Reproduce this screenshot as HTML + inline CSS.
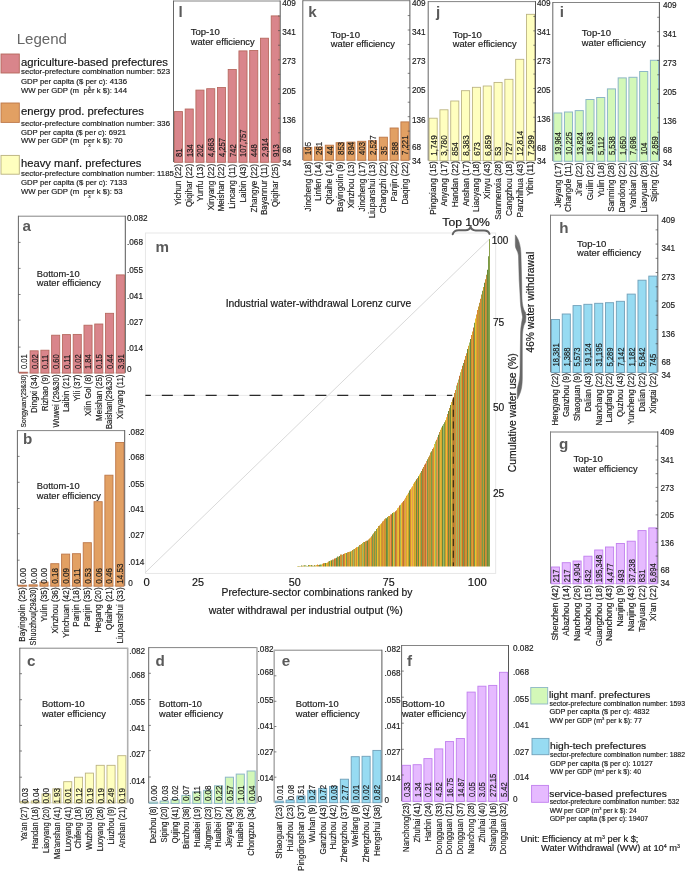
<!DOCTYPE html>
<html><head><meta charset="utf-8"><title>Industrial water-withdrawal Lorenz curve</title>
<style>
html,body{margin:0;padding:0;background:#fff;}
text{stroke:#222;stroke-width:0.16px;}
text.g{stroke:none;}
svg{display:block;will-change:transform;font-family:"Liberation Sans",sans-serif;}
</style></head><body>
<svg width="685" height="873" viewBox="0 0 685 873">
<rect width="685" height="873" fill="#fff"/>
<g id="p-l">
<line x1="173.50" y1="162.00" x2="280.20" y2="162.00" stroke="#d4d4d4" stroke-width="0.8"/>
<line x1="173.50" y1="1.00" x2="280.20" y2="1.00" stroke="#777777" stroke-width="0.9"/>
<line x1="173.50" y1="0.55" x2="173.50" y2="162.00" stroke="#555555" stroke-width="0.9"/>
<line x1="280.20" y1="0.55" x2="280.20" y2="162.00" stroke="#444444" stroke-width="0.9"/>
<rect x="174.40" y="111.60" width="8.10" height="50.70" fill="#d9858b" stroke="#b5675c" stroke-width="0.85"/>
<rect x="185.16" y="109.00" width="8.10" height="53.30" fill="#d9858b" stroke="#b5675c" stroke-width="0.85"/>
<rect x="195.91" y="90.10" width="8.10" height="72.20" fill="#d9858b" stroke="#b5675c" stroke-width="0.85"/>
<rect x="206.67" y="88.70" width="8.10" height="73.60" fill="#d9858b" stroke="#b5675c" stroke-width="0.85"/>
<rect x="217.42" y="87.50" width="8.10" height="74.80" fill="#d9858b" stroke="#b5675c" stroke-width="0.85"/>
<rect x="228.18" y="69.50" width="8.10" height="92.80" fill="#d9858b" stroke="#b5675c" stroke-width="0.85"/>
<rect x="238.93" y="50.90" width="8.10" height="111.40" fill="#d9858b" stroke="#b5675c" stroke-width="0.85"/>
<rect x="249.69" y="50.50" width="8.10" height="111.80" fill="#d9858b" stroke="#b5675c" stroke-width="0.85"/>
<rect x="260.44" y="38.20" width="8.10" height="124.10" fill="#d9858b" stroke="#b5675c" stroke-width="0.85"/>
<rect x="271.20" y="15.90" width="8.10" height="146.40" fill="#d9858b" stroke="#b5675c" stroke-width="0.85"/>
<line x1="278.00" y1="147.40" x2="280.20" y2="147.40" stroke="#4d4d4d" stroke-width="0.7"/>
<line x1="278.00" y1="132.81" x2="280.20" y2="132.81" stroke="#4d4d4d" stroke-width="0.7"/>
<line x1="278.00" y1="118.21" x2="280.20" y2="118.21" stroke="#4d4d4d" stroke-width="0.7"/>
<line x1="278.00" y1="103.61" x2="280.20" y2="103.61" stroke="#4d4d4d" stroke-width="0.7"/>
<line x1="278.00" y1="89.01" x2="280.20" y2="89.01" stroke="#4d4d4d" stroke-width="0.7"/>
<line x1="278.00" y1="74.42" x2="280.20" y2="74.42" stroke="#4d4d4d" stroke-width="0.7"/>
<line x1="278.00" y1="59.82" x2="280.20" y2="59.82" stroke="#4d4d4d" stroke-width="0.7"/>
<line x1="278.00" y1="45.22" x2="280.20" y2="45.22" stroke="#4d4d4d" stroke-width="0.7"/>
<line x1="278.00" y1="30.62" x2="280.20" y2="30.62" stroke="#4d4d4d" stroke-width="0.7"/>
<line x1="278.00" y1="16.03" x2="280.20" y2="16.03" stroke="#4d4d4d" stroke-width="0.7"/>
<text x="282.2" y="5.9" font-size="8.2" fill="#1a1a1a">409</text>
<text x="282.2" y="34.9" font-size="8.2" fill="#1a1a1a">341</text>
<text x="282.2" y="64.4" font-size="8.2" fill="#1a1a1a">273</text>
<text x="282.2" y="93.9" font-size="8.2" fill="#1a1a1a">205</text>
<text x="282.2" y="123.1" font-size="8.2" fill="#1a1a1a">136</text>
<text x="282.2" y="152.8" font-size="8.2" fill="#1a1a1a">68</text>
<text x="282.2" y="165.6" font-size="8.2" fill="#1a1a1a">34</text>
<text transform="translate(181.85,157.00) rotate(-90) scale(0.91,1)" font-size="8.4" fill="#1a1a1a">81</text>
<text transform="translate(181.35,163.90) rotate(-90) scale(0.93,1)" text-anchor="end" font-size="8.8" fill="#1a1a1a">Yichun (22)</text>
<text transform="translate(192.61,157.00) rotate(-90) scale(0.91,1)" font-size="8.4" fill="#1a1a1a">134</text>
<text transform="translate(192.11,163.90) rotate(-90) scale(0.93,1)" text-anchor="end" font-size="8.8" fill="#1a1a1a">Qiqihar (22)</text>
<text transform="translate(203.36,157.00) rotate(-90) scale(0.91,1)" font-size="8.4" fill="#1a1a1a">202</text>
<text transform="translate(202.86,163.90) rotate(-90) scale(0.93,1)" text-anchor="end" font-size="8.8" fill="#1a1a1a">Yunfu (13)</text>
<text transform="translate(214.12,157.00) rotate(-90) scale(0.91,1)" font-size="8.4" fill="#1a1a1a">4,663</text>
<text transform="translate(213.62,163.90) rotate(-90) scale(0.93,1)" text-anchor="end" font-size="8.8" fill="#1a1a1a">Xinyang (22)</text>
<text transform="translate(224.87,157.00) rotate(-90) scale(0.91,1)" font-size="8.4" fill="#1a1a1a">4,257</text>
<text transform="translate(224.37,163.90) rotate(-90) scale(0.93,1)" text-anchor="end" font-size="8.8" fill="#1a1a1a">Meishan (22)</text>
<text transform="translate(235.63,157.00) rotate(-90) scale(0.91,1)" font-size="8.4" fill="#1a1a1a">742</text>
<text transform="translate(235.13,163.90) rotate(-90) scale(0.93,1)" text-anchor="end" font-size="8.8" fill="#1a1a1a">Lincang (11)</text>
<text transform="translate(246.38,157.00) rotate(-90) scale(0.91,1)" font-size="8.4" fill="#1a1a1a">107,757</text>
<text transform="translate(245.88,163.90) rotate(-90) scale(0.93,1)" text-anchor="end" font-size="8.8" fill="#1a1a1a">Laibin (43)</text>
<text transform="translate(257.14,157.00) rotate(-90) scale(0.91,1)" font-size="8.4" fill="#1a1a1a">448</text>
<text transform="translate(256.64,163.90) rotate(-90) scale(0.93,1)" text-anchor="end" font-size="8.8" fill="#1a1a1a">Zhangye (22)</text>
<text transform="translate(267.89,157.00) rotate(-90) scale(0.91,1)" font-size="8.4" fill="#1a1a1a">2,914</text>
<text transform="translate(267.39,163.90) rotate(-90) scale(0.93,1)" text-anchor="end" font-size="8.8" fill="#1a1a1a">Bayannur (11)</text>
<text transform="translate(278.65,157.00) rotate(-90) scale(0.91,1)" font-size="8.4" fill="#1a1a1a">913</text>
<text transform="translate(278.15,163.90) rotate(-90) scale(0.93,1)" text-anchor="end" font-size="8.8" fill="#1a1a1a">Qiqihar (25)</text>
<text x="178.6" y="16.8" class="g" font-size="15.2" font-weight="bold" fill="#5a5a5a">l</text>
<text x="190.7" y="34.7" font-size="8.15" fill="#1a1a1a" textLength="29.2" lengthAdjust="spacingAndGlyphs">Top-10</text>
<text x="190.7" y="44.6" font-size="8.15" fill="#1a1a1a" textLength="64" lengthAdjust="spacingAndGlyphs">water efficiency</text>
</g>
<g id="p-k">
<line x1="302.80" y1="160.00" x2="409.90" y2="160.00" stroke="#d4d4d4" stroke-width="0.8"/>
<line x1="302.80" y1="0.70" x2="409.90" y2="0.70" stroke="#777777" stroke-width="0.9"/>
<line x1="302.80" y1="0.25" x2="302.80" y2="160.00" stroke="#555555" stroke-width="0.9"/>
<line x1="409.90" y1="0.25" x2="409.90" y2="160.00" stroke="#444444" stroke-width="0.9"/>
<rect x="303.70" y="147.40" width="8.10" height="12.90" fill="#e2a063" stroke="#bd7748" stroke-width="0.9"/>
<rect x="314.50" y="147.00" width="8.10" height="13.30" fill="#e2a063" stroke="#bd7748" stroke-width="0.9"/>
<rect x="325.30" y="145.20" width="8.10" height="15.10" fill="#e2a063" stroke="#bd7748" stroke-width="0.9"/>
<rect x="336.10" y="142.70" width="8.10" height="17.60" fill="#e2a063" stroke="#bd7748" stroke-width="0.9"/>
<rect x="346.90" y="142.10" width="8.10" height="18.20" fill="#e2a063" stroke="#bd7748" stroke-width="0.9"/>
<rect x="357.70" y="141.30" width="8.10" height="19.00" fill="#e2a063" stroke="#bd7748" stroke-width="0.9"/>
<rect x="368.50" y="140.70" width="8.10" height="19.60" fill="#e2a063" stroke="#bd7748" stroke-width="0.9"/>
<rect x="379.30" y="137.20" width="8.10" height="23.10" fill="#e2a063" stroke="#bd7748" stroke-width="0.9"/>
<rect x="390.10" y="128.00" width="8.10" height="32.30" fill="#e2a063" stroke="#bd7748" stroke-width="0.9"/>
<rect x="400.90" y="121.90" width="8.10" height="38.40" fill="#e2a063" stroke="#bd7748" stroke-width="0.9"/>
<line x1="407.70" y1="145.56" x2="409.90" y2="145.56" stroke="#4d4d4d" stroke-width="0.7"/>
<line x1="407.70" y1="131.11" x2="409.90" y2="131.11" stroke="#4d4d4d" stroke-width="0.7"/>
<line x1="407.70" y1="116.67" x2="409.90" y2="116.67" stroke="#4d4d4d" stroke-width="0.7"/>
<line x1="407.70" y1="102.23" x2="409.90" y2="102.23" stroke="#4d4d4d" stroke-width="0.7"/>
<line x1="407.70" y1="87.78" x2="409.90" y2="87.78" stroke="#4d4d4d" stroke-width="0.7"/>
<line x1="407.70" y1="73.34" x2="409.90" y2="73.34" stroke="#4d4d4d" stroke-width="0.7"/>
<line x1="407.70" y1="58.90" x2="409.90" y2="58.90" stroke="#4d4d4d" stroke-width="0.7"/>
<line x1="407.70" y1="44.45" x2="409.90" y2="44.45" stroke="#4d4d4d" stroke-width="0.7"/>
<line x1="407.70" y1="30.01" x2="409.90" y2="30.01" stroke="#4d4d4d" stroke-width="0.7"/>
<line x1="407.70" y1="15.57" x2="409.90" y2="15.57" stroke="#4d4d4d" stroke-width="0.7"/>
<text x="411.9" y="5.9" font-size="8.2" fill="#1a1a1a">409</text>
<text x="411.9" y="34.9" font-size="8.2" fill="#1a1a1a">341</text>
<text x="411.9" y="64.4" font-size="8.2" fill="#1a1a1a">273</text>
<text x="411.9" y="93.4" font-size="8.2" fill="#1a1a1a">205</text>
<text x="411.9" y="122.5" font-size="8.2" fill="#1a1a1a">136</text>
<text x="411.9" y="149.9" font-size="8.2" fill="#1a1a1a">68</text>
<text x="411.9" y="163.9" font-size="8.2" fill="#1a1a1a">34</text>
<text transform="translate(311.15,154.90) rotate(-90) scale(0.92,1)" font-size="8.4" fill="#1a1a1a">105</text>
<text transform="translate(310.65,161.70) rotate(-90) scale(0.935,1)" text-anchor="end" font-size="8.8" fill="#1a1a1a">Jincheng (18)</text>
<text transform="translate(321.95,154.90) rotate(-90) scale(0.92,1)" font-size="8.4" fill="#1a1a1a">261</text>
<text transform="translate(321.45,161.70) rotate(-90) scale(0.935,1)" text-anchor="end" font-size="8.8" fill="#1a1a1a">Linfen (14)</text>
<text transform="translate(332.75,154.90) rotate(-90) scale(0.92,1)" font-size="8.4" fill="#1a1a1a">44</text>
<text transform="translate(332.25,161.70) rotate(-90) scale(0.935,1)" text-anchor="end" font-size="8.8" fill="#1a1a1a">Qitaihe (14)</text>
<text transform="translate(343.55,154.90) rotate(-90) scale(0.92,1)" font-size="8.4" fill="#1a1a1a">853</text>
<text transform="translate(343.05,161.70) rotate(-90) scale(0.935,1)" text-anchor="end" font-size="8.8" fill="#1a1a1a">Bayingolin (9)</text>
<text transform="translate(354.35,154.90) rotate(-90) scale(0.92,1)" font-size="8.4" fill="#1a1a1a">894</text>
<text transform="translate(353.85,161.70) rotate(-90) scale(0.935,1)" text-anchor="end" font-size="8.8" fill="#1a1a1a">Xinzhou (13)</text>
<text transform="translate(365.15,154.90) rotate(-90) scale(0.92,1)" font-size="8.4" fill="#1a1a1a">403</text>
<text transform="translate(364.65,161.70) rotate(-90) scale(0.935,1)" text-anchor="end" font-size="8.8" fill="#1a1a1a">Jincheng (17)</text>
<text transform="translate(375.95,154.90) rotate(-90) scale(0.92,1)" font-size="8.4" fill="#1a1a1a">2,527</text>
<text transform="translate(375.45,161.70) rotate(-90) scale(0.935,1)" text-anchor="end" font-size="8.8" fill="#1a1a1a">Liupanshui (13)</text>
<text transform="translate(386.75,154.90) rotate(-90) scale(0.92,1)" font-size="8.4" fill="#1a1a1a">35</text>
<text transform="translate(386.25,161.70) rotate(-90) scale(0.935,1)" text-anchor="end" font-size="8.8" fill="#1a1a1a">Changzhi (22)</text>
<text transform="translate(397.55,154.90) rotate(-90) scale(0.92,1)" font-size="8.4" fill="#1a1a1a">588</text>
<text transform="translate(397.05,161.70) rotate(-90) scale(0.935,1)" text-anchor="end" font-size="8.8" fill="#1a1a1a">Panjin (22)</text>
<text transform="translate(408.35,154.90) rotate(-90) scale(0.92,1)" font-size="8.4" fill="#1a1a1a">7,221</text>
<text transform="translate(407.85,161.70) rotate(-90) scale(0.935,1)" text-anchor="end" font-size="8.8" fill="#1a1a1a">Daqing (22)</text>
<text x="308.3" y="16.8" class="g" font-size="15.2" font-weight="bold" fill="#5a5a5a">k</text>
<text x="330.8" y="37.8" font-size="8.15" fill="#1a1a1a" textLength="29.2" lengthAdjust="spacingAndGlyphs">Top-10</text>
<text x="330.8" y="47.4" font-size="8.15" fill="#1a1a1a" textLength="64" lengthAdjust="spacingAndGlyphs">water efficiency</text>
</g>
<g id="p-j">
<line x1="428.20" y1="160.50" x2="535.50" y2="160.50" stroke="#d4d4d4" stroke-width="0.8"/>
<line x1="428.20" y1="1.60" x2="535.50" y2="1.60" stroke="#777777" stroke-width="0.9"/>
<line x1="428.20" y1="1.15" x2="428.20" y2="160.50" stroke="#555555" stroke-width="0.9"/>
<line x1="535.50" y1="1.15" x2="535.50" y2="160.50" stroke="#444444" stroke-width="0.9"/>
<rect x="429.10" y="118.20" width="8.10" height="42.60" fill="#ffffbf" stroke="#b9b17e" stroke-width="0.85"/>
<rect x="439.92" y="109.80" width="8.10" height="51.00" fill="#ffffbf" stroke="#b9b17e" stroke-width="0.85"/>
<rect x="450.74" y="101.00" width="8.10" height="59.80" fill="#ffffbf" stroke="#b9b17e" stroke-width="0.85"/>
<rect x="461.57" y="90.70" width="8.10" height="70.10" fill="#ffffbf" stroke="#b9b17e" stroke-width="0.85"/>
<rect x="472.39" y="87.30" width="8.10" height="73.50" fill="#ffffbf" stroke="#b9b17e" stroke-width="0.85"/>
<rect x="483.21" y="86.00" width="8.10" height="74.80" fill="#ffffbf" stroke="#b9b17e" stroke-width="0.85"/>
<rect x="494.03" y="82.40" width="8.10" height="78.40" fill="#ffffbf" stroke="#b9b17e" stroke-width="0.85"/>
<rect x="504.86" y="79.30" width="8.10" height="81.50" fill="#ffffbf" stroke="#b9b17e" stroke-width="0.85"/>
<rect x="515.68" y="59.30" width="8.10" height="101.50" fill="#ffffbf" stroke="#b9b17e" stroke-width="0.85"/>
<rect x="526.50" y="14.30" width="8.10" height="146.50" fill="#ffffbf" stroke="#b9b17e" stroke-width="0.85"/>
<line x1="533.30" y1="146.09" x2="535.50" y2="146.09" stroke="#4d4d4d" stroke-width="0.7"/>
<line x1="533.30" y1="131.69" x2="535.50" y2="131.69" stroke="#4d4d4d" stroke-width="0.7"/>
<line x1="533.30" y1="117.28" x2="535.50" y2="117.28" stroke="#4d4d4d" stroke-width="0.7"/>
<line x1="533.30" y1="102.87" x2="535.50" y2="102.87" stroke="#4d4d4d" stroke-width="0.7"/>
<line x1="533.30" y1="88.47" x2="535.50" y2="88.47" stroke="#4d4d4d" stroke-width="0.7"/>
<line x1="533.30" y1="74.06" x2="535.50" y2="74.06" stroke="#4d4d4d" stroke-width="0.7"/>
<line x1="533.30" y1="59.65" x2="535.50" y2="59.65" stroke="#4d4d4d" stroke-width="0.7"/>
<line x1="533.30" y1="45.24" x2="535.50" y2="45.24" stroke="#4d4d4d" stroke-width="0.7"/>
<line x1="533.30" y1="30.84" x2="535.50" y2="30.84" stroke="#4d4d4d" stroke-width="0.7"/>
<line x1="533.30" y1="16.43" x2="535.50" y2="16.43" stroke="#4d4d4d" stroke-width="0.7"/>
<text x="536.9" y="5.9" font-size="8.2" fill="#1a1a1a">409</text>
<text x="536.9" y="34.9" font-size="8.2" fill="#1a1a1a">341</text>
<text x="536.9" y="63.9" font-size="8.2" fill="#1a1a1a">273</text>
<text x="536.9" y="92.9" font-size="8.2" fill="#1a1a1a">205</text>
<text x="536.9" y="121.5" font-size="8.2" fill="#1a1a1a">136</text>
<text x="536.9" y="150.7" font-size="8.2" fill="#1a1a1a">68</text>
<text x="536.9" y="163.6" font-size="8.2" fill="#1a1a1a">34</text>
<text transform="translate(436.55,155.70) rotate(-90) scale(0.97,1)" font-size="8.4" fill="#1a1a1a">1,749</text>
<text transform="translate(436.05,161.10) rotate(-90) scale(0.945,1)" text-anchor="end" font-size="8.8" fill="#1a1a1a">Pingxiang (15)</text>
<text transform="translate(447.37,155.70) rotate(-90) scale(0.97,1)" font-size="8.4" fill="#1a1a1a">3,780</text>
<text transform="translate(446.87,161.10) rotate(-90) scale(0.945,1)" text-anchor="end" font-size="8.8" fill="#1a1a1a">Anyang (17)</text>
<text transform="translate(458.19,155.70) rotate(-90) scale(0.97,1)" font-size="8.4" fill="#1a1a1a">854</text>
<text transform="translate(457.69,161.10) rotate(-90) scale(0.945,1)" text-anchor="end" font-size="8.8" fill="#1a1a1a">Handan (22)</text>
<text transform="translate(469.02,155.70) rotate(-90) scale(0.97,1)" font-size="8.4" fill="#1a1a1a">8,383</text>
<text transform="translate(468.52,161.10) rotate(-90) scale(0.945,1)" text-anchor="end" font-size="8.8" fill="#1a1a1a">Anshan (17)</text>
<text transform="translate(479.84,155.70) rotate(-90) scale(0.97,1)" font-size="8.4" fill="#1a1a1a">673</text>
<text transform="translate(479.34,161.10) rotate(-90) scale(0.945,1)" text-anchor="end" font-size="8.8" fill="#1a1a1a">Liaoyang (18)</text>
<text transform="translate(490.66,155.70) rotate(-90) scale(0.97,1)" font-size="8.4" fill="#1a1a1a">6,859</text>
<text transform="translate(490.16,161.10) rotate(-90) scale(0.945,1)" text-anchor="end" font-size="8.8" fill="#1a1a1a">Xinyu (43)</text>
<text transform="translate(501.48,155.70) rotate(-90) scale(0.97,1)" font-size="8.4" fill="#1a1a1a">53</text>
<text transform="translate(500.98,161.10) rotate(-90) scale(0.945,1)" text-anchor="end" font-size="8.8" fill="#1a1a1a">Sanmenxia (28)</text>
<text transform="translate(512.31,155.70) rotate(-90) scale(0.97,1)" font-size="8.4" fill="#1a1a1a">727</text>
<text transform="translate(511.81,161.10) rotate(-90) scale(0.945,1)" text-anchor="end" font-size="8.8" fill="#1a1a1a">Cangzhou (18)</text>
<text transform="translate(523.13,155.70) rotate(-90) scale(0.97,1)" font-size="8.4" fill="#1a1a1a">12,814</text>
<text transform="translate(522.63,161.10) rotate(-90) scale(0.945,1)" text-anchor="end" font-size="8.8" fill="#1a1a1a">Panzhihua (43)</text>
<text transform="translate(533.95,155.70) rotate(-90) scale(0.97,1)" font-size="8.4" fill="#1a1a1a">7,299</text>
<text transform="translate(533.45,161.10) rotate(-90) scale(0.945,1)" text-anchor="end" font-size="8.8" fill="#1a1a1a">Yibin (11)</text>
<text x="436.0" y="17.2" class="g" font-size="15.2" font-weight="bold" fill="#5a5a5a">j</text>
<text x="452.7" y="37.8" font-size="8.15" fill="#1a1a1a" textLength="29.2" lengthAdjust="spacingAndGlyphs">Top-10</text>
<text x="452.7" y="47.4" font-size="8.15" fill="#1a1a1a" textLength="64" lengthAdjust="spacingAndGlyphs">water efficiency</text>
</g>
<g id="p-i">
<line x1="552.80" y1="161.00" x2="659.40" y2="161.00" stroke="#d4d4d4" stroke-width="0.8"/>
<line x1="552.80" y1="2.50" x2="659.40" y2="2.50" stroke="#777777" stroke-width="0.9"/>
<line x1="552.80" y1="2.05" x2="552.80" y2="161.00" stroke="#555555" stroke-width="0.9"/>
<line x1="659.40" y1="2.05" x2="659.40" y2="161.00" stroke="#444444" stroke-width="0.9"/>
<rect x="553.70" y="113.00" width="8.10" height="48.30" fill="#d3f8b8" stroke="#8db7c6" stroke-width="1.0"/>
<rect x="564.44" y="112.00" width="8.10" height="49.30" fill="#d3f8b8" stroke="#8db7c6" stroke-width="1.0"/>
<rect x="575.19" y="110.60" width="8.10" height="50.70" fill="#d3f8b8" stroke="#8db7c6" stroke-width="1.0"/>
<rect x="585.93" y="99.50" width="8.10" height="61.80" fill="#d3f8b8" stroke="#8db7c6" stroke-width="1.0"/>
<rect x="596.68" y="97.50" width="8.10" height="63.80" fill="#d3f8b8" stroke="#8db7c6" stroke-width="1.0"/>
<rect x="607.42" y="88.90" width="8.10" height="72.40" fill="#d3f8b8" stroke="#8db7c6" stroke-width="1.0"/>
<rect x="618.17" y="77.90" width="8.10" height="83.40" fill="#d3f8b8" stroke="#8db7c6" stroke-width="1.0"/>
<rect x="628.91" y="77.30" width="8.10" height="84.00" fill="#d3f8b8" stroke="#8db7c6" stroke-width="1.0"/>
<rect x="639.66" y="71.50" width="8.10" height="89.80" fill="#d3f8b8" stroke="#8db7c6" stroke-width="1.0"/>
<rect x="650.40" y="60.30" width="8.10" height="101.00" fill="#d3f8b8" stroke="#8db7c6" stroke-width="1.0"/>
<line x1="657.20" y1="146.63" x2="659.40" y2="146.63" stroke="#4d4d4d" stroke-width="0.7"/>
<line x1="657.20" y1="132.26" x2="659.40" y2="132.26" stroke="#4d4d4d" stroke-width="0.7"/>
<line x1="657.20" y1="117.89" x2="659.40" y2="117.89" stroke="#4d4d4d" stroke-width="0.7"/>
<line x1="657.20" y1="103.52" x2="659.40" y2="103.52" stroke="#4d4d4d" stroke-width="0.7"/>
<line x1="657.20" y1="89.15" x2="659.40" y2="89.15" stroke="#4d4d4d" stroke-width="0.7"/>
<line x1="657.20" y1="74.78" x2="659.40" y2="74.78" stroke="#4d4d4d" stroke-width="0.7"/>
<line x1="657.20" y1="60.41" x2="659.40" y2="60.41" stroke="#4d4d4d" stroke-width="0.7"/>
<line x1="657.20" y1="46.03" x2="659.40" y2="46.03" stroke="#4d4d4d" stroke-width="0.7"/>
<line x1="657.20" y1="31.66" x2="659.40" y2="31.66" stroke="#4d4d4d" stroke-width="0.7"/>
<line x1="657.20" y1="17.29" x2="659.40" y2="17.29" stroke="#4d4d4d" stroke-width="0.7"/>
<text x="662.9" y="8.4" font-size="8.2" fill="#1a1a1a">409</text>
<text x="662.9" y="36.6" font-size="8.2" fill="#1a1a1a">341</text>
<text x="662.9" y="65.9" font-size="8.2" fill="#1a1a1a">273</text>
<text x="662.9" y="94.9" font-size="8.2" fill="#1a1a1a">205</text>
<text x="662.9" y="123.5" font-size="8.2" fill="#1a1a1a">136</text>
<text x="662.9" y="152.9" font-size="8.2" fill="#1a1a1a">68</text>
<text x="662.9" y="165.6" font-size="8.2" fill="#1a1a1a">34</text>
<text transform="translate(561.15,155.10) rotate(-90) scale(0.9,1)" font-size="8.4" fill="#1a1a1a">19,964</text>
<text transform="translate(560.65,162.60) rotate(-90) scale(0.93,1)" text-anchor="end" font-size="8.8" fill="#1a1a1a">Jieyang (17)</text>
<text transform="translate(571.89,155.10) rotate(-90) scale(0.9,1)" font-size="8.4" fill="#1a1a1a">10,225</text>
<text transform="translate(571.39,162.60) rotate(-90) scale(0.93,1)" text-anchor="end" font-size="8.8" fill="#1a1a1a">Changde (11)</text>
<text transform="translate(582.64,155.10) rotate(-90) scale(0.9,1)" font-size="8.4" fill="#1a1a1a">13,824</text>
<text transform="translate(582.14,162.60) rotate(-90) scale(0.93,1)" text-anchor="end" font-size="8.8" fill="#1a1a1a">Ji'an (22)</text>
<text transform="translate(593.38,155.10) rotate(-90) scale(0.9,1)" font-size="8.4" fill="#1a1a1a">16,633</text>
<text transform="translate(592.88,162.60) rotate(-90) scale(0.93,1)" text-anchor="end" font-size="8.8" fill="#1a1a1a">Guilin (22)</text>
<text transform="translate(604.13,155.10) rotate(-90) scale(0.9,1)" font-size="8.4" fill="#1a1a1a">5,112</text>
<text transform="translate(603.63,162.60) rotate(-90) scale(0.93,1)" text-anchor="end" font-size="8.8" fill="#1a1a1a">Yulin (18)</text>
<text transform="translate(614.87,155.10) rotate(-90) scale(0.9,1)" font-size="8.4" fill="#1a1a1a">5,538</text>
<text transform="translate(614.37,162.60) rotate(-90) scale(0.93,1)" text-anchor="end" font-size="8.8" fill="#1a1a1a">Sanming (28)</text>
<text transform="translate(625.62,155.10) rotate(-90) scale(0.9,1)" font-size="8.4" fill="#1a1a1a">1,650</text>
<text transform="translate(625.12,162.60) rotate(-90) scale(0.93,1)" text-anchor="end" font-size="8.8" fill="#1a1a1a">Dandong (22)</text>
<text transform="translate(636.36,155.10) rotate(-90) scale(0.9,1)" font-size="8.4" fill="#1a1a1a">7,696</text>
<text transform="translate(635.86,162.60) rotate(-90) scale(0.93,1)" text-anchor="end" font-size="8.8" fill="#1a1a1a">Yanbian (22)</text>
<text transform="translate(647.11,155.10) rotate(-90) scale(0.9,1)" font-size="8.4" fill="#1a1a1a">104</text>
<text transform="translate(646.61,162.60) rotate(-90) scale(0.93,1)" text-anchor="end" font-size="8.8" fill="#1a1a1a">Liaoyuan (28)</text>
<text transform="translate(657.85,155.10) rotate(-90) scale(0.9,1)" font-size="8.4" fill="#1a1a1a">2,859</text>
<text transform="translate(657.35,162.60) rotate(-90) scale(0.93,1)" text-anchor="end" font-size="8.8" fill="#1a1a1a">Siping (22)</text>
<text x="559.8" y="16.9" class="g" font-size="15.2" font-weight="bold" fill="#5a5a5a">i</text>
<text x="581.8" y="36.0" font-size="8.15" fill="#1a1a1a" textLength="29.2" lengthAdjust="spacingAndGlyphs">Top-10</text>
<text x="581.8" y="46.0" font-size="8.15" fill="#1a1a1a" textLength="64" lengthAdjust="spacingAndGlyphs">water efficiency</text>
</g>
<g id="p-h">
<line x1="550.50" y1="372.20" x2="657.80" y2="372.20" stroke="#d4d4d4" stroke-width="0.8"/>
<line x1="550.50" y1="215.20" x2="657.80" y2="215.20" stroke="#808080" stroke-width="1.0"/>
<line x1="550.50" y1="214.70" x2="550.50" y2="372.20" stroke="#808080" stroke-width="1.0"/>
<line x1="657.80" y1="214.70" x2="657.80" y2="372.20" stroke="#444444" stroke-width="0.9"/>
<rect x="551.40" y="319.50" width="8.10" height="53.00" fill="#97dbf2" stroke="#6f9fb8" stroke-width="0.9"/>
<rect x="562.22" y="314.00" width="8.10" height="58.50" fill="#97dbf2" stroke="#6f9fb8" stroke-width="0.9"/>
<rect x="573.04" y="305.60" width="8.10" height="66.90" fill="#97dbf2" stroke="#6f9fb8" stroke-width="0.9"/>
<rect x="583.87" y="304.30" width="8.10" height="68.20" fill="#97dbf2" stroke="#6f9fb8" stroke-width="0.9"/>
<rect x="594.69" y="303.30" width="8.10" height="69.20" fill="#97dbf2" stroke="#6f9fb8" stroke-width="0.9"/>
<rect x="605.51" y="302.70" width="8.10" height="69.80" fill="#97dbf2" stroke="#6f9fb8" stroke-width="0.9"/>
<rect x="616.33" y="301.30" width="8.10" height="71.20" fill="#97dbf2" stroke="#6f9fb8" stroke-width="0.9"/>
<rect x="627.16" y="294.10" width="8.10" height="78.40" fill="#97dbf2" stroke="#6f9fb8" stroke-width="0.9"/>
<rect x="637.98" y="280.20" width="8.10" height="92.30" fill="#97dbf2" stroke="#6f9fb8" stroke-width="0.9"/>
<rect x="648.80" y="276.10" width="8.10" height="96.40" fill="#97dbf2" stroke="#6f9fb8" stroke-width="0.9"/>
<line x1="655.60" y1="357.97" x2="657.80" y2="357.97" stroke="#4d4d4d" stroke-width="0.7"/>
<line x1="655.60" y1="343.73" x2="657.80" y2="343.73" stroke="#4d4d4d" stroke-width="0.7"/>
<line x1="655.60" y1="329.50" x2="657.80" y2="329.50" stroke="#4d4d4d" stroke-width="0.7"/>
<line x1="655.60" y1="315.26" x2="657.80" y2="315.26" stroke="#4d4d4d" stroke-width="0.7"/>
<line x1="655.60" y1="301.03" x2="657.80" y2="301.03" stroke="#4d4d4d" stroke-width="0.7"/>
<line x1="655.60" y1="286.79" x2="657.80" y2="286.79" stroke="#4d4d4d" stroke-width="0.7"/>
<line x1="655.60" y1="272.56" x2="657.80" y2="272.56" stroke="#4d4d4d" stroke-width="0.7"/>
<line x1="655.60" y1="258.32" x2="657.80" y2="258.32" stroke="#4d4d4d" stroke-width="0.7"/>
<line x1="655.60" y1="244.09" x2="657.80" y2="244.09" stroke="#4d4d4d" stroke-width="0.7"/>
<line x1="655.60" y1="229.85" x2="657.80" y2="229.85" stroke="#4d4d4d" stroke-width="0.7"/>
<text x="661.5" y="222.6" font-size="8.2" fill="#1a1a1a">409</text>
<text x="661.5" y="251.0" font-size="8.2" fill="#1a1a1a">341</text>
<text x="661.5" y="279.9" font-size="8.2" fill="#1a1a1a">273</text>
<text x="661.5" y="308.0" font-size="8.2" fill="#1a1a1a">205</text>
<text x="661.5" y="336.9" font-size="8.2" fill="#1a1a1a">136</text>
<text x="661.5" y="365.3" font-size="8.2" fill="#1a1a1a">68</text>
<text x="661.5" y="377.6" font-size="8.2" fill="#1a1a1a">34</text>
<text transform="translate(558.85,366.50) rotate(-90) scale(0.9,1)" font-size="8.4" fill="#1a1a1a">18,381</text>
<text transform="translate(558.35,373.20) rotate(-90) scale(0.91,1)" text-anchor="end" font-size="8.7" fill="#1a1a1a">Hengyang (22)</text>
<text transform="translate(569.67,366.50) rotate(-90) scale(0.9,1)" font-size="8.4" fill="#1a1a1a">1,388</text>
<text transform="translate(569.17,373.20) rotate(-90) scale(0.91,1)" text-anchor="end" font-size="8.7" fill="#1a1a1a">Ganzhou (9)</text>
<text transform="translate(580.49,366.50) rotate(-90) scale(0.9,1)" font-size="8.4" fill="#1a1a1a">5,573</text>
<text transform="translate(579.99,373.20) rotate(-90) scale(0.91,1)" text-anchor="end" font-size="8.7" fill="#1a1a1a">Shaoguan (9)</text>
<text transform="translate(591.32,366.50) rotate(-90) scale(0.9,1)" font-size="8.4" fill="#1a1a1a">19,124</text>
<text transform="translate(590.82,373.20) rotate(-90) scale(0.91,1)" text-anchor="end" font-size="8.7" fill="#1a1a1a">Dalian (43)</text>
<text transform="translate(602.14,366.50) rotate(-90) scale(0.9,1)" font-size="8.4" fill="#1a1a1a">31,195</text>
<text transform="translate(601.64,373.20) rotate(-90) scale(0.91,1)" text-anchor="end" font-size="8.7" fill="#1a1a1a">Nanchang (22)</text>
<text transform="translate(612.96,366.50) rotate(-90) scale(0.9,1)" font-size="8.4" fill="#1a1a1a">5,289</text>
<text transform="translate(612.46,373.20) rotate(-90) scale(0.91,1)" text-anchor="end" font-size="8.7" fill="#1a1a1a">Langfang (22)</text>
<text transform="translate(623.78,366.50) rotate(-90) scale(0.9,1)" font-size="8.4" fill="#1a1a1a">7,142</text>
<text transform="translate(623.28,373.20) rotate(-90) scale(0.91,1)" text-anchor="end" font-size="8.7" fill="#1a1a1a">Quzhou (43)</text>
<text transform="translate(634.61,366.50) rotate(-90) scale(0.9,1)" font-size="8.4" fill="#1a1a1a">1,182</text>
<text transform="translate(634.11,373.20) rotate(-90) scale(0.91,1)" text-anchor="end" font-size="8.7" fill="#1a1a1a">Yuncheng (22)</text>
<text transform="translate(645.43,366.50) rotate(-90) scale(0.9,1)" font-size="8.4" fill="#1a1a1a">5,842</text>
<text transform="translate(644.93,373.20) rotate(-90) scale(0.91,1)" text-anchor="end" font-size="8.7" fill="#1a1a1a">Dalian (22)</text>
<text transform="translate(656.25,366.50) rotate(-90) scale(0.9,1)" font-size="8.4" fill="#1a1a1a">745</text>
<text transform="translate(655.75,373.20) rotate(-90) scale(0.91,1)" text-anchor="end" font-size="8.7" fill="#1a1a1a">Xingtai (22)</text>
<text x="559.3" y="233" class="g" font-size="15.2" font-weight="bold" fill="#5a5a5a">h</text>
<text x="577.1" y="246.5" font-size="8.15" fill="#1a1a1a" textLength="29.2" lengthAdjust="spacingAndGlyphs">Top-10</text>
<text x="577.1" y="256.1" font-size="8.15" fill="#1a1a1a" textLength="64" lengthAdjust="spacingAndGlyphs">water efficiency</text>
</g>
<g id="p-g">
<line x1="550.50" y1="583.50" x2="657.80" y2="583.50" stroke="#d4d4d4" stroke-width="0.8"/>
<line x1="550.50" y1="432.10" x2="657.80" y2="432.10" stroke="#a8a8a8" stroke-width="1.5"/>
<line x1="550.50" y1="431.35" x2="550.50" y2="583.50" stroke="#808080" stroke-width="1.0"/>
<line x1="657.80" y1="431.35" x2="657.80" y2="583.50" stroke="#444444" stroke-width="0.9"/>
<rect x="551.40" y="567.00" width="8.10" height="16.80" fill="#e6baff" stroke="#c07fee" stroke-width="0.9"/>
<rect x="562.22" y="562.70" width="8.10" height="21.10" fill="#e6baff" stroke="#c07fee" stroke-width="0.9"/>
<rect x="573.04" y="561.00" width="8.10" height="22.80" fill="#e6baff" stroke="#c07fee" stroke-width="0.9"/>
<rect x="583.87" y="556.20" width="8.10" height="27.60" fill="#e6baff" stroke="#c07fee" stroke-width="0.9"/>
<rect x="594.69" y="550.00" width="8.10" height="33.80" fill="#e6baff" stroke="#c07fee" stroke-width="0.9"/>
<rect x="605.51" y="547.00" width="8.10" height="36.80" fill="#e6baff" stroke="#c07fee" stroke-width="0.9"/>
<rect x="616.33" y="543.50" width="8.10" height="40.30" fill="#e6baff" stroke="#c07fee" stroke-width="0.9"/>
<rect x="627.16" y="541.20" width="8.10" height="42.60" fill="#e6baff" stroke="#c07fee" stroke-width="0.9"/>
<rect x="637.98" y="530.60" width="8.10" height="53.20" fill="#e6baff" stroke="#c07fee" stroke-width="0.9"/>
<rect x="648.80" y="527.90" width="8.10" height="55.90" fill="#e6baff" stroke="#c07fee" stroke-width="0.9"/>
<line x1="655.60" y1="569.77" x2="657.80" y2="569.77" stroke="#4d4d4d" stroke-width="0.7"/>
<line x1="655.60" y1="556.05" x2="657.80" y2="556.05" stroke="#4d4d4d" stroke-width="0.7"/>
<line x1="655.60" y1="542.32" x2="657.80" y2="542.32" stroke="#4d4d4d" stroke-width="0.7"/>
<line x1="655.60" y1="528.59" x2="657.80" y2="528.59" stroke="#4d4d4d" stroke-width="0.7"/>
<line x1="655.60" y1="514.87" x2="657.80" y2="514.87" stroke="#4d4d4d" stroke-width="0.7"/>
<line x1="655.60" y1="501.14" x2="657.80" y2="501.14" stroke="#4d4d4d" stroke-width="0.7"/>
<line x1="655.60" y1="487.41" x2="657.80" y2="487.41" stroke="#4d4d4d" stroke-width="0.7"/>
<line x1="655.60" y1="473.68" x2="657.80" y2="473.68" stroke="#4d4d4d" stroke-width="0.7"/>
<line x1="655.60" y1="459.96" x2="657.80" y2="459.96" stroke="#4d4d4d" stroke-width="0.7"/>
<line x1="655.60" y1="446.23" x2="657.80" y2="446.23" stroke="#4d4d4d" stroke-width="0.7"/>
<text x="660.5" y="434.9" font-size="8.2" fill="#1a1a1a">409</text>
<text x="660.5" y="462.8" font-size="8.2" fill="#1a1a1a">341</text>
<text x="660.5" y="490.5" font-size="8.2" fill="#1a1a1a">273</text>
<text x="660.5" y="517.9" font-size="8.2" fill="#1a1a1a">205</text>
<text x="660.5" y="545.8" font-size="8.2" fill="#1a1a1a">136</text>
<text x="660.5" y="572.8" font-size="8.2" fill="#1a1a1a">68</text>
<text x="660.5" y="585.6" font-size="8.2" fill="#1a1a1a">34</text>
<text transform="translate(558.85,582.20) rotate(-90) scale(0.9,1)" font-size="8.4" fill="#1a1a1a">217</text>
<text transform="translate(558.35,585.20) rotate(-90) scale(0.95,1)" text-anchor="end" font-size="8.9" fill="#1a1a1a">Shenzhen (42)</text>
<text transform="translate(569.67,582.20) rotate(-90) scale(0.9,1)" font-size="8.4" fill="#1a1a1a">217</text>
<text transform="translate(569.17,585.20) rotate(-90) scale(0.95,1)" text-anchor="end" font-size="8.9" fill="#1a1a1a">Abazhou (14)</text>
<text transform="translate(580.49,582.20) rotate(-90) scale(0.9,1)" font-size="8.4" fill="#1a1a1a">4,904</text>
<text transform="translate(579.99,585.20) rotate(-90) scale(0.95,1)" text-anchor="end" font-size="8.9" fill="#1a1a1a">Nanchong (26)</text>
<text transform="translate(591.32,582.20) rotate(-90) scale(0.9,1)" font-size="8.4" fill="#1a1a1a">432</text>
<text transform="translate(590.82,585.20) rotate(-90) scale(0.95,1)" text-anchor="end" font-size="8.9" fill="#1a1a1a">Abazhou (15)</text>
<text transform="translate(602.14,582.20) rotate(-90) scale(0.9,1)" font-size="8.4" fill="#1a1a1a">195,348</text>
<text transform="translate(601.64,585.20) rotate(-90) scale(0.95,1)" text-anchor="end" font-size="8.9" fill="#1a1a1a">Guangzhou (18)</text>
<text transform="translate(612.96,582.20) rotate(-90) scale(0.9,1)" font-size="8.4" fill="#1a1a1a">4,477</text>
<text transform="translate(612.46,585.20) rotate(-90) scale(0.95,1)" text-anchor="end" font-size="8.9" fill="#1a1a1a">Nanchong (43)</text>
<text transform="translate(623.78,582.20) rotate(-90) scale(0.9,1)" font-size="8.4" fill="#1a1a1a">493</text>
<text transform="translate(623.28,585.20) rotate(-90) scale(0.95,1)" text-anchor="end" font-size="8.9" fill="#1a1a1a">Nanjing (9)</text>
<text transform="translate(634.61,582.20) rotate(-90) scale(0.9,1)" font-size="8.4" fill="#1a1a1a">37,238</text>
<text transform="translate(634.11,585.20) rotate(-90) scale(0.95,1)" text-anchor="end" font-size="8.9" fill="#1a1a1a">Nanjing (43)</text>
<text transform="translate(645.43,582.20) rotate(-90) scale(0.9,1)" font-size="8.4" fill="#1a1a1a">831</text>
<text transform="translate(644.93,585.20) rotate(-90) scale(0.95,1)" text-anchor="end" font-size="8.9" fill="#1a1a1a">Taiyuan (22)</text>
<text transform="translate(656.25,582.20) rotate(-90) scale(0.9,1)" font-size="8.4" fill="#1a1a1a">6,894</text>
<text transform="translate(655.75,585.20) rotate(-90) scale(0.95,1)" text-anchor="end" font-size="8.9" fill="#1a1a1a">Xi'an (22)</text>
<text x="558.9" y="448.6" class="g" font-size="15.2" font-weight="bold" fill="#5a5a5a">g</text>
<text x="573.6" y="461.9" font-size="8.15" fill="#1a1a1a" textLength="29.2" lengthAdjust="spacingAndGlyphs">Top-10</text>
<text x="573.6" y="471.5" font-size="8.15" fill="#1a1a1a" textLength="64" lengthAdjust="spacingAndGlyphs">water efficiency</text>
</g>
<g id="p-a">
<line x1="18.40" y1="372.80" x2="125.30" y2="372.80" stroke="#d4d4d4" stroke-width="0.8"/>
<line x1="18.40" y1="216.20" x2="125.30" y2="216.20" stroke="#777777" stroke-width="0.9"/>
<line x1="18.40" y1="215.75" x2="18.40" y2="372.80" stroke="#555555" stroke-width="0.9"/>
<line x1="125.30" y1="215.75" x2="125.30" y2="372.80" stroke="#444444" stroke-width="0.9"/>
<rect x="19.30" y="372.20" width="8.10" height="0.90" fill="#d9858b" stroke="#b5675c" stroke-width="0.85"/>
<rect x="30.08" y="350.80" width="8.10" height="22.30" fill="#d9858b" stroke="#b5675c" stroke-width="0.85"/>
<rect x="40.86" y="350.20" width="8.10" height="22.90" fill="#d9858b" stroke="#b5675c" stroke-width="0.85"/>
<rect x="51.63" y="335.20" width="8.10" height="37.90" fill="#d9858b" stroke="#b5675c" stroke-width="0.85"/>
<rect x="62.41" y="334.60" width="8.10" height="38.50" fill="#d9858b" stroke="#b5675c" stroke-width="0.85"/>
<rect x="73.19" y="334.40" width="8.10" height="38.70" fill="#d9858b" stroke="#b5675c" stroke-width="0.85"/>
<rect x="83.97" y="325.20" width="8.10" height="47.90" fill="#d9858b" stroke="#b5675c" stroke-width="0.85"/>
<rect x="94.74" y="324.00" width="8.10" height="49.10" fill="#d9858b" stroke="#b5675c" stroke-width="0.85"/>
<rect x="105.52" y="313.30" width="8.10" height="59.80" fill="#d9858b" stroke="#b5675c" stroke-width="0.85"/>
<rect x="116.30" y="274.90" width="8.10" height="98.20" fill="#d9858b" stroke="#b5675c" stroke-width="0.85"/>
<line x1="18.40" y1="242.40" x2="20.60" y2="242.40" stroke="#4d4d4d" stroke-width="0.7"/>
<line x1="18.40" y1="268.40" x2="20.60" y2="268.40" stroke="#4d4d4d" stroke-width="0.7"/>
<line x1="18.40" y1="294.50" x2="20.60" y2="294.50" stroke="#4d4d4d" stroke-width="0.7"/>
<line x1="18.40" y1="320.10" x2="20.60" y2="320.10" stroke="#4d4d4d" stroke-width="0.7"/>
<line x1="18.40" y1="347.10" x2="20.60" y2="347.10" stroke="#4d4d4d" stroke-width="0.7"/>
<text x="127.0" y="220.6" font-size="8.2" fill="#1a1a1a">0.082</text>
<text x="127.0" y="244.7" font-size="8.2" fill="#1a1a1a">.068</text>
<text x="127.0" y="272.7" font-size="8.2" fill="#1a1a1a">.055</text>
<text x="127.0" y="298.9" font-size="8.2" fill="#1a1a1a">.041</text>
<text x="127.0" y="325.1" font-size="8.2" fill="#1a1a1a">.027</text>
<text x="127.0" y="350.6" font-size="8.2" fill="#1a1a1a">.014</text>
<text x="127.0" y="372.1" font-size="8.2" fill="#1a1a1a">0</text>
<text transform="translate(26.75,369.10) rotate(-90) scale(0.91,1)" font-size="8.4" fill="#1a1a1a">0.01</text>
<text transform="translate(26.25,374.50) rotate(-90) scale(1.0,1)" text-anchor="end" font-size="7.8" fill="#1a1a1a" textLength="53" lengthAdjust="spacingAndGlyphs">Songyuan(29&amp;30)</text>
<text transform="translate(37.53,369.10) rotate(-90) scale(0.91,1)" font-size="8.4" fill="#1a1a1a">0.02</text>
<text transform="translate(37.03,374.50) rotate(-90) scale(0.915,1)" text-anchor="end" font-size="8.7" fill="#1a1a1a">Dingxi (34)</text>
<text transform="translate(48.31,369.10) rotate(-90) scale(0.91,1)" font-size="8.4" fill="#1a1a1a">0.11</text>
<text transform="translate(47.81,374.50) rotate(-90) scale(0.915,1)" text-anchor="end" font-size="8.7" fill="#1a1a1a">Rizhao (9)</text>
<text transform="translate(59.08,369.10) rotate(-90) scale(0.91,1)" font-size="8.4" fill="#1a1a1a">0.60</text>
<text transform="translate(58.58,374.50) rotate(-90) scale(1.0,1)" text-anchor="end" font-size="8.5" fill="#1a1a1a" textLength="53" lengthAdjust="spacingAndGlyphs">Wuwei (29&amp;30)</text>
<text transform="translate(69.86,369.10) rotate(-90) scale(0.91,1)" font-size="8.4" fill="#1a1a1a">0.11</text>
<text transform="translate(69.36,374.50) rotate(-90) scale(0.915,1)" text-anchor="end" font-size="8.7" fill="#1a1a1a">Laibin (21)</text>
<text transform="translate(80.64,369.10) rotate(-90) scale(0.91,1)" font-size="8.4" fill="#1a1a1a">0.02</text>
<text transform="translate(80.14,374.50) rotate(-90) scale(0.915,1)" text-anchor="end" font-size="8.7" fill="#1a1a1a">Yili (37)</text>
<text transform="translate(91.42,369.10) rotate(-90) scale(0.91,1)" font-size="8.4" fill="#1a1a1a">1.84</text>
<text transform="translate(90.92,374.50) rotate(-90) scale(0.915,1)" text-anchor="end" font-size="8.7" fill="#1a1a1a">Xilin Gol (8)</text>
<text transform="translate(102.19,369.10) rotate(-90) scale(0.91,1)" font-size="8.4" fill="#1a1a1a">0.15</text>
<text transform="translate(101.69,374.50) rotate(-90) scale(0.915,1)" text-anchor="end" font-size="8.7" fill="#1a1a1a">Meishan (25)</text>
<text transform="translate(112.97,369.10) rotate(-90) scale(0.91,1)" font-size="8.4" fill="#1a1a1a">0.44</text>
<text transform="translate(112.47,374.50) rotate(-90) scale(1.0,1)" text-anchor="end" font-size="8.2" fill="#1a1a1a" textLength="54.6" lengthAdjust="spacingAndGlyphs">Baishan(29&amp;30)</text>
<text transform="translate(123.75,369.10) rotate(-90) scale(0.91,1)" font-size="8.4" fill="#1a1a1a">3.91</text>
<text transform="translate(123.25,374.50) rotate(-90) scale(0.915,1)" text-anchor="end" font-size="8.7" fill="#1a1a1a">Xinyang (11)</text>
<text x="22.5" y="231" class="g" font-size="15.2" font-weight="bold" fill="#5a5a5a">a</text>
<text x="36.8" y="276.5" font-size="8.15" fill="#1a1a1a" textLength="42.9" lengthAdjust="spacingAndGlyphs">Bottom-10</text>
<text x="36.8" y="286.1" font-size="8.15" fill="#1a1a1a" textLength="64" lengthAdjust="spacingAndGlyphs">water efficiency</text>
</g>
<g id="p-b">
<line x1="17.40" y1="585.90" x2="124.70" y2="585.90" stroke="#d4d4d4" stroke-width="0.8"/>
<line x1="17.40" y1="430.60" x2="124.70" y2="430.60" stroke="#777777" stroke-width="0.9"/>
<line x1="17.40" y1="430.15" x2="17.40" y2="585.90" stroke="#555555" stroke-width="0.9"/>
<line x1="124.70" y1="430.15" x2="124.70" y2="585.90" stroke="#444444" stroke-width="0.9"/>
<rect x="18.30" y="585.20" width="8.10" height="1.00" fill="#e2a063" stroke="#bd7748" stroke-width="0.9"/>
<rect x="29.12" y="584.80" width="8.10" height="1.40" fill="#e2a063" stroke="#bd7748" stroke-width="0.9"/>
<rect x="39.94" y="582.10" width="8.10" height="4.10" fill="#e2a063" stroke="#bd7748" stroke-width="0.9"/>
<rect x="50.77" y="563.70" width="8.10" height="22.50" fill="#e2a063" stroke="#bd7748" stroke-width="0.9"/>
<rect x="61.59" y="554.10" width="8.10" height="32.10" fill="#e2a063" stroke="#bd7748" stroke-width="0.9"/>
<rect x="72.41" y="553.70" width="8.10" height="32.50" fill="#e2a063" stroke="#bd7748" stroke-width="0.9"/>
<rect x="83.23" y="542.70" width="8.10" height="43.50" fill="#e2a063" stroke="#bd7748" stroke-width="0.9"/>
<rect x="94.06" y="501.70" width="8.10" height="84.50" fill="#e2a063" stroke="#bd7748" stroke-width="0.9"/>
<rect x="104.88" y="475.20" width="8.10" height="111.00" fill="#e2a063" stroke="#bd7748" stroke-width="0.9"/>
<rect x="115.70" y="442.50" width="8.10" height="143.70" fill="#e2a063" stroke="#bd7748" stroke-width="0.9"/>
<line x1="17.40" y1="456.40" x2="19.60" y2="456.40" stroke="#4d4d4d" stroke-width="0.7"/>
<line x1="17.40" y1="482.30" x2="19.60" y2="482.30" stroke="#4d4d4d" stroke-width="0.7"/>
<line x1="17.40" y1="508.50" x2="19.60" y2="508.50" stroke="#4d4d4d" stroke-width="0.7"/>
<line x1="17.40" y1="533.70" x2="19.60" y2="533.70" stroke="#4d4d4d" stroke-width="0.7"/>
<line x1="17.40" y1="560.20" x2="19.60" y2="560.20" stroke="#4d4d4d" stroke-width="0.7"/>
<text x="128.3" y="435.2" font-size="8.2" fill="#1a1a1a">.082</text>
<text x="128.3" y="459.7" font-size="8.2" fill="#1a1a1a">.068</text>
<text x="128.3" y="486.7" font-size="8.2" fill="#1a1a1a">.055</text>
<text x="128.3" y="512.4" font-size="8.2" fill="#1a1a1a">.041</text>
<text x="128.3" y="538.0" font-size="8.2" fill="#1a1a1a">.027</text>
<text x="128.3" y="565.0" font-size="8.2" fill="#1a1a1a">.014</text>
<text x="128.3" y="585.6" font-size="8.2" fill="#1a1a1a">0</text>
<text transform="translate(25.75,583.70) rotate(-90) scale(0.96,1)" font-size="8.4" fill="#1a1a1a">0.00</text>
<text transform="translate(25.25,587.40) rotate(-90) scale(0.925,1)" text-anchor="end" font-size="8.8" fill="#1a1a1a">Bayingolin (25)</text>
<text transform="translate(36.57,583.70) rotate(-90) scale(0.96,1)" font-size="8.4" fill="#1a1a1a">0.00</text>
<text transform="translate(36.07,587.40) rotate(-90) scale(1.0,1)" text-anchor="end" font-size="8.2" fill="#1a1a1a" textLength="58" lengthAdjust="spacingAndGlyphs">Shuozhou(29&amp;30)</text>
<text transform="translate(47.39,583.70) rotate(-90) scale(0.96,1)" font-size="8.4" fill="#1a1a1a">0.00</text>
<text transform="translate(46.89,587.40) rotate(-90) scale(0.925,1)" text-anchor="end" font-size="8.8" fill="#1a1a1a">Yulin (35)</text>
<text transform="translate(58.22,583.70) rotate(-90) scale(0.96,1)" font-size="8.4" fill="#1a1a1a">0.18</text>
<text transform="translate(57.72,587.40) rotate(-90) scale(0.925,1)" text-anchor="end" font-size="8.8" fill="#1a1a1a">Xinzhou (36)</text>
<text transform="translate(69.04,583.70) rotate(-90) scale(0.96,1)" font-size="8.4" fill="#1a1a1a">0.09</text>
<text transform="translate(68.54,587.40) rotate(-90) scale(0.925,1)" text-anchor="end" font-size="8.8" fill="#1a1a1a">Yinchuan (42)</text>
<text transform="translate(79.86,583.70) rotate(-90) scale(0.96,1)" font-size="8.4" fill="#1a1a1a">0.11</text>
<text transform="translate(79.36,587.40) rotate(-90) scale(0.925,1)" text-anchor="end" font-size="8.8" fill="#1a1a1a">Panjin (18)</text>
<text transform="translate(90.68,583.70) rotate(-90) scale(0.96,1)" font-size="8.4" fill="#1a1a1a">0.53</text>
<text transform="translate(90.18,587.40) rotate(-90) scale(0.925,1)" text-anchor="end" font-size="8.8" fill="#1a1a1a">Panjin (35)</text>
<text transform="translate(101.51,583.70) rotate(-90) scale(0.96,1)" font-size="8.4" fill="#1a1a1a">0.06</text>
<text transform="translate(101.01,587.40) rotate(-90) scale(0.925,1)" text-anchor="end" font-size="8.8" fill="#1a1a1a">Hegang (20)</text>
<text transform="translate(112.33,583.70) rotate(-90) scale(0.96,1)" font-size="8.4" fill="#1a1a1a">0.46</text>
<text transform="translate(111.83,587.40) rotate(-90) scale(0.925,1)" text-anchor="end" font-size="8.8" fill="#1a1a1a">Qitaihe (21)</text>
<text transform="translate(123.15,583.70) rotate(-90) scale(0.96,1)" font-size="8.4" fill="#1a1a1a">14.53</text>
<text transform="translate(122.65,587.40) rotate(-90) scale(0.925,1)" text-anchor="end" font-size="8.8" fill="#1a1a1a">Liupanshui (33)</text>
<text x="22.9" y="444.1" class="g" font-size="15.2" font-weight="bold" fill="#5a5a5a">b</text>
<text x="36.8" y="488.9" font-size="8.15" fill="#1a1a1a" textLength="42.9" lengthAdjust="spacingAndGlyphs">Bottom-10</text>
<text x="36.8" y="498.7" font-size="8.15" fill="#1a1a1a" textLength="64" lengthAdjust="spacingAndGlyphs">water efficiency</text>
</g>
<g id="p-c">
<line x1="19.80" y1="802.70" x2="127.70" y2="802.70" stroke="#d4d4d4" stroke-width="0.8"/>
<line x1="19.80" y1="648.20" x2="127.70" y2="648.20" stroke="#777777" stroke-width="0.9"/>
<line x1="19.80" y1="647.75" x2="19.80" y2="802.70" stroke="#555555" stroke-width="0.9"/>
<line x1="127.70" y1="647.75" x2="127.70" y2="802.70" stroke="#b0b0b0" stroke-width="1.6"/>
<rect x="20.40" y="801.50" width="8.10" height="1.50" fill="#ffffbf" stroke="#b9b17e" stroke-width="0.85"/>
<rect x="31.22" y="801.00" width="8.10" height="2.00" fill="#ffffbf" stroke="#b9b17e" stroke-width="0.85"/>
<rect x="42.04" y="794.00" width="8.10" height="9.00" fill="#ffffbf" stroke="#b9b17e" stroke-width="0.85"/>
<rect x="52.87" y="788.80" width="8.10" height="14.20" fill="#ffffbf" stroke="#b9b17e" stroke-width="0.85"/>
<rect x="63.69" y="781.70" width="8.10" height="21.30" fill="#ffffbf" stroke="#b9b17e" stroke-width="0.85"/>
<rect x="74.51" y="777.20" width="8.10" height="25.80" fill="#ffffbf" stroke="#b9b17e" stroke-width="0.85"/>
<rect x="85.33" y="773.10" width="8.10" height="29.90" fill="#ffffbf" stroke="#b9b17e" stroke-width="0.85"/>
<rect x="96.16" y="765.30" width="8.10" height="37.70" fill="#ffffbf" stroke="#b9b17e" stroke-width="0.85"/>
<rect x="106.98" y="765.30" width="8.10" height="37.70" fill="#ffffbf" stroke="#b9b17e" stroke-width="0.85"/>
<rect x="117.80" y="755.70" width="8.10" height="47.30" fill="#ffffbf" stroke="#b9b17e" stroke-width="0.85"/>
<line x1="19.80" y1="673.70" x2="22.00" y2="673.70" stroke="#4d4d4d" stroke-width="0.7"/>
<line x1="19.80" y1="699.70" x2="22.00" y2="699.70" stroke="#4d4d4d" stroke-width="0.7"/>
<line x1="19.80" y1="725.40" x2="22.00" y2="725.40" stroke="#4d4d4d" stroke-width="0.7"/>
<line x1="19.80" y1="751.00" x2="22.00" y2="751.00" stroke="#4d4d4d" stroke-width="0.7"/>
<line x1="19.80" y1="777.20" x2="22.00" y2="777.20" stroke="#4d4d4d" stroke-width="0.7"/>
<text x="129.2" y="653.5" font-size="8.2" fill="#1a1a1a">.082</text>
<text x="129.2" y="677.6" font-size="8.2" fill="#1a1a1a">.068</text>
<text x="129.2" y="704.8" font-size="8.2" fill="#1a1a1a">.055</text>
<text x="129.2" y="731.2" font-size="8.2" fill="#1a1a1a">.041</text>
<text x="129.2" y="757.0" font-size="8.2" fill="#1a1a1a">.027</text>
<text x="129.2" y="783.6" font-size="8.2" fill="#1a1a1a">.014</text>
<text x="129.2" y="804.4" font-size="8.2" fill="#1a1a1a">0</text>
<text transform="translate(27.85,803.60) rotate(-90) scale(0.98,1)" font-size="8.2" fill="#1a1a1a">0.03</text>
<text transform="translate(27.35,806.70) rotate(-90) scale(0.915,1)" text-anchor="end" font-size="8.3" fill="#1a1a1a">Ya'an (27)</text>
<text transform="translate(38.67,803.60) rotate(-90) scale(0.98,1)" font-size="8.2" fill="#1a1a1a">0.04</text>
<text transform="translate(38.17,806.70) rotate(-90) scale(0.915,1)" text-anchor="end" font-size="8.3" fill="#1a1a1a">Handan (18)</text>
<text transform="translate(49.49,803.60) rotate(-90) scale(0.98,1)" font-size="8.2" fill="#1a1a1a">0.00</text>
<text transform="translate(48.99,806.70) rotate(-90) scale(0.915,1)" text-anchor="end" font-size="8.3" fill="#1a1a1a">Liaoyang (20)</text>
<text transform="translate(60.32,803.60) rotate(-90) scale(0.98,1)" font-size="8.2" fill="#1a1a1a">1.93</text>
<text transform="translate(59.82,806.70) rotate(-90) scale(0.915,1)" text-anchor="end" font-size="8.3" fill="#1a1a1a">Ma'anshan (41)</text>
<text transform="translate(71.14,803.60) rotate(-90) scale(0.98,1)" font-size="8.2" fill="#1a1a1a">0.01</text>
<text transform="translate(70.64,806.70) rotate(-90) scale(0.915,1)" text-anchor="end" font-size="8.3" fill="#1a1a1a">Luoyang (41)</text>
<text transform="translate(81.96,803.60) rotate(-90) scale(0.98,1)" font-size="8.2" fill="#1a1a1a">0.12</text>
<text transform="translate(81.46,806.70) rotate(-90) scale(0.915,1)" text-anchor="end" font-size="8.3" fill="#1a1a1a">Chifeng (18)</text>
<text transform="translate(92.78,803.60) rotate(-90) scale(0.98,1)" font-size="8.2" fill="#1a1a1a">0.19</text>
<text transform="translate(92.28,806.70) rotate(-90) scale(0.915,1)" text-anchor="end" font-size="8.3" fill="#1a1a1a">Wuzhou (35)</text>
<text transform="translate(103.61,803.60) rotate(-90) scale(0.98,1)" font-size="8.2" fill="#1a1a1a">0.19</text>
<text transform="translate(103.11,806.70) rotate(-90) scale(0.915,1)" text-anchor="end" font-size="8.3" fill="#1a1a1a">Luoyang (28)</text>
<text transform="translate(114.43,803.60) rotate(-90) scale(0.98,1)" font-size="8.2" fill="#1a1a1a">2.49</text>
<text transform="translate(113.93,806.70) rotate(-90) scale(0.915,1)" text-anchor="end" font-size="8.3" fill="#1a1a1a">Liuzhou (9)</text>
<text transform="translate(125.25,803.60) rotate(-90) scale(0.98,1)" font-size="8.2" fill="#1a1a1a">0.19</text>
<text transform="translate(124.75,806.70) rotate(-90) scale(0.915,1)" text-anchor="end" font-size="8.3" fill="#1a1a1a">Anshan (21)</text>
<text x="27" y="666.2" class="g" font-size="15.2" font-weight="bold" fill="#5a5a5a">c</text>
<text x="41.9" y="706.8" font-size="8.15" fill="#1a1a1a" textLength="42.9" lengthAdjust="spacingAndGlyphs">Bottom-10</text>
<text x="41.9" y="716.6" font-size="8.15" fill="#1a1a1a" textLength="64" lengthAdjust="spacingAndGlyphs">water efficiency</text>
</g>
<g id="p-d">
<line x1="148.70" y1="803.10" x2="257.00" y2="803.10" stroke="#d4d4d4" stroke-width="0.8"/>
<line x1="148.70" y1="647.60" x2="257.00" y2="647.60" stroke="#777777" stroke-width="0.9"/>
<line x1="148.70" y1="647.15" x2="148.70" y2="803.10" stroke="#555555" stroke-width="0.9"/>
<line x1="257.00" y1="647.15" x2="257.00" y2="803.10" stroke="#b0b0b0" stroke-width="1.6"/>
<rect x="149.30" y="802.10" width="8.10" height="1.30" fill="#d3f8b8" stroke="#8db7c6" stroke-width="1.0"/>
<rect x="160.17" y="801.10" width="8.10" height="2.30" fill="#d3f8b8" stroke="#8db7c6" stroke-width="1.0"/>
<rect x="171.03" y="799.70" width="8.10" height="3.70" fill="#d3f8b8" stroke="#8db7c6" stroke-width="1.0"/>
<rect x="181.90" y="795.40" width="8.10" height="8.00" fill="#d3f8b8" stroke="#8db7c6" stroke-width="1.0"/>
<rect x="192.77" y="791.90" width="8.10" height="11.50" fill="#d3f8b8" stroke="#8db7c6" stroke-width="1.0"/>
<rect x="203.63" y="790.30" width="8.10" height="13.10" fill="#d3f8b8" stroke="#8db7c6" stroke-width="1.0"/>
<rect x="214.50" y="785.80" width="8.10" height="17.60" fill="#d3f8b8" stroke="#8db7c6" stroke-width="1.0"/>
<rect x="225.37" y="777.20" width="8.10" height="26.20" fill="#d3f8b8" stroke="#8db7c6" stroke-width="1.0"/>
<rect x="236.23" y="774.10" width="8.10" height="29.30" fill="#d3f8b8" stroke="#8db7c6" stroke-width="1.0"/>
<rect x="247.10" y="771.00" width="8.10" height="32.40" fill="#d3f8b8" stroke="#8db7c6" stroke-width="1.0"/>
<line x1="148.70" y1="673.30" x2="150.90" y2="673.30" stroke="#4d4d4d" stroke-width="0.7"/>
<line x1="148.70" y1="699.50" x2="150.90" y2="699.50" stroke="#4d4d4d" stroke-width="0.7"/>
<line x1="148.70" y1="725.40" x2="150.90" y2="725.40" stroke="#4d4d4d" stroke-width="0.7"/>
<line x1="148.70" y1="750.60" x2="150.90" y2="750.60" stroke="#4d4d4d" stroke-width="0.7"/>
<line x1="148.70" y1="777.00" x2="150.90" y2="777.00" stroke="#4d4d4d" stroke-width="0.7"/>
<text x="257.6" y="651.5" font-size="8.2" fill="#1a1a1a">.082</text>
<text x="257.6" y="675.0" font-size="8.2" fill="#1a1a1a">.068</text>
<text x="257.6" y="703.2" font-size="8.2" fill="#1a1a1a">.055</text>
<text x="257.6" y="728.7" font-size="8.2" fill="#1a1a1a">.041</text>
<text x="257.6" y="755.4" font-size="8.2" fill="#1a1a1a">.027</text>
<text x="257.6" y="781.1" font-size="8.2" fill="#1a1a1a">.014</text>
<text x="257.6" y="801.5" font-size="8.2" fill="#1a1a1a">0</text>
<text transform="translate(156.75,801.10) rotate(-90) scale(0.96,1)" font-size="8.4" fill="#1a1a1a">0.00</text>
<text transform="translate(156.25,806.40) rotate(-90) scale(0.9,1)" text-anchor="end" font-size="8.3" fill="#1a1a1a">Dezhou (8)</text>
<text transform="translate(167.62,801.10) rotate(-90) scale(0.96,1)" font-size="8.4" fill="#1a1a1a">0.03</text>
<text transform="translate(167.12,806.40) rotate(-90) scale(0.9,1)" text-anchor="end" font-size="8.3" fill="#1a1a1a">Siping (20)</text>
<text transform="translate(178.48,801.10) rotate(-90) scale(0.96,1)" font-size="8.4" fill="#1a1a1a">0.02</text>
<text transform="translate(177.98,806.40) rotate(-90) scale(0.9,1)" text-anchor="end" font-size="8.3" fill="#1a1a1a">Qujing (41)</text>
<text transform="translate(189.35,801.10) rotate(-90) scale(0.96,1)" font-size="8.4" fill="#1a1a1a">0.07</text>
<text transform="translate(188.85,806.40) rotate(-90) scale(0.9,1)" text-anchor="end" font-size="8.3" fill="#1a1a1a">Binzhou (36)</text>
<text transform="translate(200.22,801.10) rotate(-90) scale(0.96,1)" font-size="8.4" fill="#1a1a1a">0.11</text>
<text transform="translate(199.72,806.40) rotate(-90) scale(0.9,1)" text-anchor="end" font-size="8.3" fill="#1a1a1a">Huaibei (19)</text>
<text transform="translate(211.08,801.10) rotate(-90) scale(0.96,1)" font-size="8.4" fill="#1a1a1a">0.08</text>
<text transform="translate(210.58,806.40) rotate(-90) scale(0.9,1)" text-anchor="end" font-size="8.3" fill="#1a1a1a">Jingmen (23)</text>
<text transform="translate(221.95,801.10) rotate(-90) scale(0.96,1)" font-size="8.4" fill="#1a1a1a">0.22</text>
<text transform="translate(221.45,806.40) rotate(-90) scale(0.9,1)" text-anchor="end" font-size="8.3" fill="#1a1a1a">Huaibei (37)</text>
<text transform="translate(232.82,801.10) rotate(-90) scale(0.96,1)" font-size="8.4" fill="#1a1a1a">0.57</text>
<text transform="translate(232.32,806.40) rotate(-90) scale(0.9,1)" text-anchor="end" font-size="8.3" fill="#1a1a1a">Jieyang (24)</text>
<text transform="translate(243.68,801.10) rotate(-90) scale(0.96,1)" font-size="8.4" fill="#1a1a1a">1.01</text>
<text transform="translate(243.18,806.40) rotate(-90) scale(0.9,1)" text-anchor="end" font-size="8.3" fill="#1a1a1a">Huaibei (39)</text>
<text transform="translate(254.55,801.10) rotate(-90) scale(0.96,1)" font-size="8.4" fill="#1a1a1a">0.04</text>
<text transform="translate(254.05,806.40) rotate(-90) scale(0.9,1)" text-anchor="end" font-size="8.3" fill="#1a1a1a">Chongzuo (34)</text>
<text x="155.4" y="666" class="g" font-size="15.2" font-weight="bold" fill="#5a5a5a">d</text>
<text x="159.1" y="706.8" font-size="8.15" fill="#1a1a1a" textLength="42.9" lengthAdjust="spacingAndGlyphs">Bottom-10</text>
<text x="159.1" y="716.6" font-size="8.15" fill="#1a1a1a" textLength="64" lengthAdjust="spacingAndGlyphs">water efficiency</text>
</g>
<g id="p-e">
<line x1="274.20" y1="802.40" x2="381.90" y2="802.40" stroke="#d4d4d4" stroke-width="0.8"/>
<line x1="274.20" y1="650.20" x2="381.90" y2="650.20" stroke="#777777" stroke-width="0.9"/>
<line x1="274.20" y1="649.75" x2="274.20" y2="802.40" stroke="#b0b0b0" stroke-width="1.6"/>
<line x1="381.90" y1="649.75" x2="381.90" y2="802.40" stroke="#444444" stroke-width="0.9"/>
<rect x="275.20" y="801.10" width="8.10" height="1.60" fill="#97dbf2" stroke="#6f9fb8" stroke-width="0.9"/>
<rect x="286.06" y="800.10" width="8.10" height="2.60" fill="#97dbf2" stroke="#6f9fb8" stroke-width="0.9"/>
<rect x="296.91" y="796.00" width="8.10" height="6.70" fill="#97dbf2" stroke="#6f9fb8" stroke-width="0.9"/>
<rect x="307.77" y="790.30" width="8.10" height="12.40" fill="#97dbf2" stroke="#6f9fb8" stroke-width="0.9"/>
<rect x="318.62" y="788.40" width="8.10" height="14.30" fill="#97dbf2" stroke="#6f9fb8" stroke-width="0.9"/>
<rect x="329.48" y="786.40" width="8.10" height="16.30" fill="#97dbf2" stroke="#6f9fb8" stroke-width="0.9"/>
<rect x="340.33" y="779.20" width="8.10" height="23.50" fill="#97dbf2" stroke="#6f9fb8" stroke-width="0.9"/>
<rect x="351.19" y="756.70" width="8.10" height="46.00" fill="#97dbf2" stroke="#6f9fb8" stroke-width="0.9"/>
<rect x="362.04" y="756.30" width="8.10" height="46.40" fill="#97dbf2" stroke="#6f9fb8" stroke-width="0.9"/>
<rect x="372.90" y="750.40" width="8.10" height="52.30" fill="#97dbf2" stroke="#6f9fb8" stroke-width="0.9"/>
<line x1="274.20" y1="675.80" x2="276.40" y2="675.80" stroke="#4d4d4d" stroke-width="0.7"/>
<line x1="274.20" y1="701.30" x2="276.40" y2="701.30" stroke="#4d4d4d" stroke-width="0.7"/>
<line x1="274.20" y1="726.50" x2="276.40" y2="726.50" stroke="#4d4d4d" stroke-width="0.7"/>
<line x1="274.20" y1="751.90" x2="276.40" y2="751.90" stroke="#4d4d4d" stroke-width="0.7"/>
<line x1="274.20" y1="777.20" x2="276.40" y2="777.20" stroke="#4d4d4d" stroke-width="0.7"/>
<text x="384.6" y="651.5" font-size="8.2" fill="#1a1a1a">.082</text>
<text x="384.6" y="675.6" font-size="8.2" fill="#1a1a1a">.068</text>
<text x="384.6" y="703.2" font-size="8.2" fill="#1a1a1a">.055</text>
<text x="384.6" y="729.4" font-size="8.2" fill="#1a1a1a">.041</text>
<text x="384.6" y="755.4" font-size="8.2" fill="#1a1a1a">.027</text>
<text x="384.6" y="781.1" font-size="8.2" fill="#1a1a1a">.014</text>
<text x="384.6" y="802.6" font-size="8.2" fill="#1a1a1a">0</text>
<text transform="translate(282.65,800.20) rotate(-90) scale(0.94,1)" font-size="8.4" fill="#1a1a1a">0.01</text>
<text transform="translate(282.15,804.60) rotate(-90) scale(0.93,1)" text-anchor="end" font-size="8.8" fill="#1a1a1a">Shaoguan (23)</text>
<text transform="translate(293.51,800.20) rotate(-90) scale(0.94,1)" font-size="8.4" fill="#1a1a1a">0.08</text>
<text transform="translate(293.01,804.60) rotate(-90) scale(0.93,1)" text-anchor="end" font-size="8.8" fill="#1a1a1a">Huizhou (23)</text>
<text transform="translate(304.36,800.20) rotate(-90) scale(0.94,1)" font-size="8.4" fill="#1a1a1a">0.51</text>
<text transform="translate(303.86,804.60) rotate(-90) scale(0.93,1)" text-anchor="end" font-size="8.8" fill="#1a1a1a">Pingdingshan (37)</text>
<text transform="translate(315.22,800.20) rotate(-90) scale(0.94,1)" font-size="8.4" fill="#1a1a1a">0.27</text>
<text transform="translate(314.72,804.60) rotate(-90) scale(0.93,1)" text-anchor="end" font-size="8.8" fill="#1a1a1a">Wuhan (9)</text>
<text transform="translate(326.07,800.20) rotate(-90) scale(0.94,1)" font-size="8.4" fill="#1a1a1a">0.72</text>
<text transform="translate(325.57,804.60) rotate(-90) scale(0.93,1)" text-anchor="end" font-size="8.8" fill="#1a1a1a">Ganzhou (43)</text>
<text transform="translate(336.93,800.20) rotate(-90) scale(0.94,1)" font-size="8.4" fill="#1a1a1a">0.03</text>
<text transform="translate(336.43,804.60) rotate(-90) scale(0.93,1)" text-anchor="end" font-size="8.8" fill="#1a1a1a">Huzhou (42)</text>
<text transform="translate(347.78,800.20) rotate(-90) scale(0.94,1)" font-size="8.4" fill="#1a1a1a">2.77</text>
<text transform="translate(347.28,804.60) rotate(-90) scale(0.93,1)" text-anchor="end" font-size="8.8" fill="#1a1a1a">Zhengzhou (37)</text>
<text transform="translate(358.64,800.20) rotate(-90) scale(0.94,1)" font-size="8.4" fill="#1a1a1a">0.01</text>
<text transform="translate(358.14,804.60) rotate(-90) scale(0.93,1)" text-anchor="end" font-size="8.8" fill="#1a1a1a">Weifang (8)</text>
<text transform="translate(369.49,800.20) rotate(-90) scale(0.94,1)" font-size="8.4" fill="#1a1a1a">0.02</text>
<text transform="translate(368.99,804.60) rotate(-90) scale(0.93,1)" text-anchor="end" font-size="8.8" fill="#1a1a1a">Zhengzhou (42)</text>
<text transform="translate(380.35,800.20) rotate(-90) scale(0.94,1)" font-size="8.4" fill="#1a1a1a">0.82</text>
<text transform="translate(379.85,804.60) rotate(-90) scale(0.93,1)" text-anchor="end" font-size="8.8" fill="#1a1a1a">Hengshui (38)</text>
<text x="281.8" y="665.5" class="g" font-size="15.2" font-weight="bold" fill="#5a5a5a">e</text>
<text x="295.7" y="706.8" font-size="8.15" fill="#1a1a1a" textLength="42.9" lengthAdjust="spacingAndGlyphs">Bottom-10</text>
<text x="295.7" y="716.6" font-size="8.15" fill="#1a1a1a" textLength="64" lengthAdjust="spacingAndGlyphs">water efficiency</text>
</g>
<g id="p-f">
<line x1="401.60" y1="801.10" x2="508.50" y2="801.10" stroke="#d4d4d4" stroke-width="0.8"/>
<line x1="401.60" y1="645.50" x2="508.50" y2="645.50" stroke="#777777" stroke-width="0.9"/>
<line x1="401.60" y1="645.05" x2="401.60" y2="801.10" stroke="#555555" stroke-width="0.9"/>
<line x1="508.50" y1="645.05" x2="508.50" y2="801.10" stroke="#444444" stroke-width="0.9"/>
<rect x="402.30" y="765.30" width="8.10" height="36.10" fill="#e6baff" stroke="#c07fee" stroke-width="0.9"/>
<rect x="413.10" y="764.70" width="8.10" height="36.70" fill="#e6baff" stroke="#c07fee" stroke-width="0.9"/>
<rect x="423.90" y="758.60" width="8.10" height="42.80" fill="#e6baff" stroke="#c07fee" stroke-width="0.9"/>
<rect x="434.70" y="748.90" width="8.10" height="52.50" fill="#e6baff" stroke="#c07fee" stroke-width="0.9"/>
<rect x="445.50" y="741.60" width="8.10" height="59.80" fill="#e6baff" stroke="#c07fee" stroke-width="0.9"/>
<rect x="456.30" y="738.50" width="8.10" height="62.90" fill="#e6baff" stroke="#c07fee" stroke-width="0.9"/>
<rect x="467.10" y="692.10" width="8.10" height="109.30" fill="#e6baff" stroke="#c07fee" stroke-width="0.9"/>
<rect x="477.90" y="686.20" width="8.10" height="115.20" fill="#e6baff" stroke="#c07fee" stroke-width="0.9"/>
<rect x="488.70" y="685.40" width="8.10" height="116.00" fill="#e6baff" stroke="#c07fee" stroke-width="0.9"/>
<rect x="499.50" y="672.30" width="8.10" height="129.10" fill="#e6baff" stroke="#c07fee" stroke-width="0.9"/>
<line x1="401.60" y1="671.10" x2="403.80" y2="671.10" stroke="#4d4d4d" stroke-width="0.7"/>
<line x1="401.60" y1="697.20" x2="403.80" y2="697.20" stroke="#4d4d4d" stroke-width="0.7"/>
<line x1="401.60" y1="723.20" x2="403.80" y2="723.20" stroke="#4d4d4d" stroke-width="0.7"/>
<line x1="401.60" y1="749.30" x2="403.80" y2="749.30" stroke="#4d4d4d" stroke-width="0.7"/>
<line x1="401.60" y1="775.00" x2="403.80" y2="775.00" stroke="#4d4d4d" stroke-width="0.7"/>
<text x="513.0" y="650.5" font-size="8.2" fill="#1a1a1a">0.082</text>
<text x="513.0" y="674.6" font-size="8.2" fill="#1a1a1a">.068</text>
<text x="513.0" y="702.2" font-size="8.2" fill="#1a1a1a">.055</text>
<text x="513.0" y="728.3" font-size="8.2" fill="#1a1a1a">.041</text>
<text x="513.0" y="754.5" font-size="8.2" fill="#1a1a1a">.027</text>
<text x="513.0" y="780.1" font-size="8.2" fill="#1a1a1a">.014</text>
<text x="513.0" y="801.5" font-size="8.2" fill="#1a1a1a">0</text>
<text transform="translate(409.75,797.00) rotate(-90) scale(0.91,1)" font-size="8.4" fill="#1a1a1a">0.33</text>
<text transform="translate(409.25,802.90) rotate(-90) scale(0.9,1)" text-anchor="end" font-size="8.6" fill="#1a1a1a">Nanchong(23)</text>
<text transform="translate(420.55,797.00) rotate(-90) scale(0.91,1)" font-size="8.4" fill="#1a1a1a">1.34</text>
<text transform="translate(420.05,802.90) rotate(-90) scale(0.9,1)" text-anchor="end" font-size="8.6" fill="#1a1a1a">Zhuhai (41)</text>
<text transform="translate(431.35,797.00) rotate(-90) scale(0.91,1)" font-size="8.4" fill="#1a1a1a">0.21</text>
<text transform="translate(430.85,802.90) rotate(-90) scale(0.9,1)" text-anchor="end" font-size="8.6" fill="#1a1a1a">Harbin (24)</text>
<text transform="translate(442.15,797.00) rotate(-90) scale(0.91,1)" font-size="8.4" fill="#1a1a1a">4.52</text>
<text transform="translate(441.65,802.90) rotate(-90) scale(0.9,1)" text-anchor="end" font-size="8.6" fill="#1a1a1a">Dongguan (33)</text>
<text transform="translate(452.95,797.00) rotate(-90) scale(0.91,1)" font-size="8.4" fill="#1a1a1a">16.75</text>
<text transform="translate(452.45,802.90) rotate(-90) scale(0.9,1)" text-anchor="end" font-size="8.6" fill="#1a1a1a">Dongguan (21)</text>
<text transform="translate(463.75,797.00) rotate(-90) scale(0.91,1)" font-size="8.4" fill="#1a1a1a">14.87</text>
<text transform="translate(463.25,802.90) rotate(-90) scale(0.9,1)" text-anchor="end" font-size="8.6" fill="#1a1a1a">Dongguan (37)</text>
<text transform="translate(474.55,797.00) rotate(-90) scale(0.91,1)" font-size="8.4" fill="#1a1a1a">0.05</text>
<text transform="translate(474.05,802.90) rotate(-90) scale(0.9,1)" text-anchor="end" font-size="8.6" fill="#1a1a1a">Nanchong (28)</text>
<text transform="translate(485.35,797.00) rotate(-90) scale(0.91,1)" font-size="8.4" fill="#1a1a1a">3.05</text>
<text transform="translate(484.85,802.90) rotate(-90) scale(0.9,1)" text-anchor="end" font-size="8.6" fill="#1a1a1a">Zhuhai (40)</text>
<text transform="translate(496.15,797.00) rotate(-90) scale(0.91,1)" font-size="8.4" fill="#1a1a1a">272.15</text>
<text transform="translate(495.65,802.90) rotate(-90) scale(0.9,1)" text-anchor="end" font-size="8.6" fill="#1a1a1a">Shanghai (16)</text>
<text transform="translate(506.95,797.00) rotate(-90) scale(0.91,1)" font-size="8.4" fill="#1a1a1a">5.42</text>
<text transform="translate(506.45,802.90) rotate(-90) scale(0.9,1)" text-anchor="end" font-size="8.6" fill="#1a1a1a">Dongguan (32)</text>
<text x="407" y="665.5" class="g" font-size="15.2" font-weight="bold" fill="#5a5a5a">f</text>
<text x="401.9" y="706.8" font-size="8.15" fill="#1a1a1a" textLength="42.9" lengthAdjust="spacingAndGlyphs">Bottom-10</text>
<text x="401.9" y="716.6" font-size="8.15" fill="#1a1a1a" textLength="64" lengthAdjust="spacingAndGlyphs">water efficiency</text>
</g>
<text class="g" x="16.7" y="44.3" font-size="15.4" fill="#666" textLength="50.3" lengthAdjust="spacingAndGlyphs">Legend</text>
<rect x="1" y="54" width="18.3" height="19" fill="#d9858b" stroke="#b5675c" stroke-width="0.9"/>
<text x="21" y="66" font-size="10.0" fill="#111" textLength="147" lengthAdjust="spacingAndGlyphs">agriculture-based prefectures</text>
<text x="21" y="74.4" font-size="7.8" fill="#111" textLength="149" lengthAdjust="spacingAndGlyphs">sector-prefecture combination number: 523</text>
<text x="21" y="83.9" font-size="7.8" fill="#111" textLength="106" lengthAdjust="spacingAndGlyphs">GDP per capita ($ per c): 4136</text>
<text x="21" y="92.6" font-size="7.8" fill="#111" textLength="106" lengthAdjust="spacingAndGlyphs">WW per GDP (m&#160;&#160;per k $): 144</text>
<rect x="1" y="103" width="18.3" height="19.4" fill="#e2a063" stroke="#bd7748" stroke-width="0.9"/>
<text x="21" y="115.3" font-size="10.0" fill="#111" textLength="123" lengthAdjust="spacingAndGlyphs">energy prod. prefectures</text>
<text x="21" y="125.5" font-size="7.8" fill="#111" textLength="149" lengthAdjust="spacingAndGlyphs">sector-prefecture combination number: 336</text>
<text x="21" y="135" font-size="7.8" fill="#111" textLength="105" lengthAdjust="spacingAndGlyphs">GDP per capita ($ per c): 6921</text>
<text x="21" y="143.4" font-size="7.8" fill="#111" textLength="101.7" lengthAdjust="spacingAndGlyphs">WW per GDP (m&#160;&#160;per k $): 70</text>
<rect x="1" y="155.4" width="18.3" height="18.8" fill="#ffffbf" stroke="#b9b17e" stroke-width="0.9"/>
<text x="21" y="167" font-size="10.0" fill="#111" textLength="120.3" lengthAdjust="spacingAndGlyphs">heavy manf. prefectures</text>
<text x="21" y="176" font-size="7.8" fill="#111" textLength="152.8" lengthAdjust="spacingAndGlyphs">sector-prefecture combination number: 1185</text>
<text x="21" y="185" font-size="7.8" fill="#111" textLength="106" lengthAdjust="spacingAndGlyphs">GDP per capita ($ per c): 7133</text>
<text x="21" y="193.8" font-size="7.8" fill="#111" textLength="101.7" lengthAdjust="spacingAndGlyphs">WW per GDP (m&#160;&#160;per k $): 53</text>
<text x="88.3" y="88.6" font-size="4.2" fill="#111">3</text>
<text x="88.3" y="146.6" font-size="4.2" fill="#111">3</text>
<text x="88.3" y="198.2" font-size="4.2" fill="#111">3</text>
<rect x="530.8" y="687.5" width="16.9" height="16.5" fill="#d3f8b8" stroke="#8db7c6" stroke-width="0.9"/>
<text x="549" y="698.2" font-size="9.4" fill="#111" textLength="101.4" lengthAdjust="spacingAndGlyphs">light manf. prefectures</text>
<text x="549.5" y="705.7" font-size="7.3" fill="#111" textLength="135.5" lengthAdjust="spacingAndGlyphs">sector-prefecture combination number: 1593</text>
<text x="549.5" y="714.3" font-size="7.3" fill="#111" textLength="100" lengthAdjust="spacingAndGlyphs">GDP per capita ($ per c): 4832</text>
<text x="549.5" y="722.7" font-size="7.3" fill="#111" textLength="92.3" lengthAdjust="spacingAndGlyphs">WW per GDP (m<tspan font-size="4.3" dy="-2.3">3</tspan><tspan dy="2.3"> per k $): 77</tspan></text>
<rect x="532" y="738.4" width="17" height="16.3" fill="#97dbf2" stroke="#6f9fb8" stroke-width="0.9"/>
<text x="550" y="749.1" font-size="9.4" fill="#111" textLength="96.2" lengthAdjust="spacingAndGlyphs">high-tech prefectures</text>
<text x="550" y="757.3" font-size="7.3" fill="#111" textLength="135" lengthAdjust="spacingAndGlyphs">sector-prefecture combination number: 1882</text>
<text x="550" y="765.5" font-size="7.3" fill="#111" textLength="102.8" lengthAdjust="spacingAndGlyphs">GDP per capita ($ per c): 10127</text>
<text x="550" y="774.1" font-size="7.3" fill="#111" textLength="91" lengthAdjust="spacingAndGlyphs">WW per GDP (m<tspan font-size="4.3" dy="-2.3">3</tspan><tspan dy="2.3"> per k $): 40</tspan></text>
<rect x="531.6" y="785.4" width="16.9" height="16.9" fill="#e6baff" stroke="#c07fee" stroke-width="0.9"/>
<text x="549.3" y="796.8" font-size="9.4" fill="#111" textLength="117.6" lengthAdjust="spacingAndGlyphs">service-based prefectures</text>
<text x="549.7" y="804.3" font-size="7.3" fill="#111" textLength="129.6" lengthAdjust="spacingAndGlyphs">sector-prefecture combination number: 532</text>
<text x="549.7" y="812.7" font-size="7.3" fill="#111" textLength="86.9" lengthAdjust="spacingAndGlyphs">WW per GDP (m<tspan font-size="4.3" dy="-2.3">3</tspan><tspan dy="2.3"> per k $): 24</tspan></text>
<text x="549.7" y="821.2" font-size="7.3" fill="#111" textLength="98.5" lengthAdjust="spacingAndGlyphs">GDP per capita ($ per c): 19407</text>
<text x="520.5" y="842" font-size="8.8" fill="#111" textLength="117.9" lengthAdjust="spacingAndGlyphs">Unit: Efficiency at m<tspan font-size="5" dy="-3.2">3</tspan><tspan dy="3.2"> per k $;</tspan></text>
<text x="541" y="851.4" font-size="8.8" fill="#111" textLength="139" lengthAdjust="spacingAndGlyphs">Water Withdrawal (WW) at 10<tspan font-size="5" dy="-3.2">4</tspan><tspan dy="3.2"> m</tspan><tspan font-size="5" dy="-3.2">3</tspan></text>
<g id="p-m">
<rect x="145.4" y="233" width="350.29999999999995" height="340.4" fill="none" stroke="#e4e4e4" stroke-width="0.9"/>
<line x1="145.4" y1="572.4" x2="489.3" y2="239.3" stroke="#c8c8c8" stroke-width="0.7"/>
<path d="M297.00 566.4V566.1h1.00V566.4zM300.00 566.4V566.0h1.00V566.4zM316.00 566.4V564.9h1.00V566.4zM322.00 566.4V563.7h1.00V566.4zM326.00 566.4V563.0h1.00V566.4zM330.00 566.4V560.5h1.00V566.4zM345.00 566.4V552.9h1.00V566.4zM357.00 566.4V546.9h1.00V566.4zM377.00 566.4V528.0h1.00V566.4zM380.00 566.4V524.2h1.00V566.4zM393.00 566.4V512.3h1.00V566.4zM398.00 566.4V507.6h1.00V566.4zM401.00 566.4V503.3h1.00V566.4zM407.00 566.4V494.4h1.00V566.4zM411.00 566.4V487.5h1.00V566.4zM413.00 566.4V483.8h1.00V566.4zM419.00 566.4V474.5h1.00V566.4zM434.00 566.4V444.1h1.00V566.4zM446.00 566.4V417.3h1.00V566.4zM475.00 566.4V318.4h1.00V566.4z" fill="#ecc030"/>
<path d="M298.00 566.4V566.1h1.00V566.4zM304.00 566.4V565.3h1.00V566.4zM308.00 566.4V565.1h1.00V566.4zM311.00 566.4V565.1h1.00V566.4zM320.00 566.4V564.6h1.00V566.4zM329.00 566.4V561.0h1.00V566.4zM337.00 566.4V556.6h1.00V566.4zM346.00 566.4V552.9h1.00V566.4zM350.00 566.4V551.5h1.00V566.4zM358.00 566.4V546.4h1.00V566.4zM364.00 566.4V542.0h1.00V566.4zM372.00 566.4V534.5h1.00V566.4zM374.00 566.4V531.5h1.00V566.4zM376.00 566.4V528.9h1.00V566.4zM387.00 566.4V517.1h1.00V566.4zM421.00 566.4V471.1h1.00V566.4zM427.00 566.4V459.2h1.00V566.4zM431.00 566.4V451.2h1.00V566.4zM444.00 566.4V422.3h1.00V566.4zM463.00 566.4V362.9h1.00V566.4zM474.00 566.4V322.8h1.00V566.4zM482.00 566.4V290.8h1.00V566.4zM488.00 566.4V256.3h1.00V566.4z" fill="#7a9a48"/>
<path d="M299.00 566.4V566.1h1.00V566.4zM302.00 566.4V565.7h1.00V566.4zM312.00 566.4V565.5h1.00V566.4zM318.00 566.4V564.9h1.00V566.4zM328.00 566.4V561.4h1.00V566.4zM338.00 566.4V556.8h1.00V566.4zM340.00 566.4V554.6h1.00V566.4zM348.00 566.4V552.1h1.00V566.4zM361.00 566.4V543.9h1.00V566.4zM369.00 566.4V538.5h1.00V566.4zM373.00 566.4V533.2h1.00V566.4zM375.00 566.4V531.1h1.00V566.4zM378.00 566.4V526.1h1.00V566.4zM381.00 566.4V523.2h1.00V566.4zM385.00 566.4V518.2h1.00V566.4zM389.00 566.4V515.9h1.00V566.4zM408.00 566.4V492.8h1.00V566.4zM414.00 566.4V482.3h1.00V566.4zM420.00 566.4V472.8h1.00V566.4zM428.00 566.4V457.2h1.00V566.4zM430.00 566.4V452.6h1.00V566.4zM436.00 566.4V439.8h1.00V566.4zM445.00 566.4V420.2h1.00V566.4zM465.00 566.4V356.0h1.00V566.4zM478.00 566.4V306.5h1.00V566.4zM483.00 566.4V287.1h1.00V566.4z" fill="#c89a30"/>
<path d="M301.00 566.4V565.6h1.00V566.4zM319.00 566.4V564.8h1.00V566.4zM325.00 566.4V563.1h1.00V566.4zM331.00 566.4V560.2h1.00V566.4zM336.00 566.4V557.7h1.00V566.4zM339.00 566.4V555.9h1.00V566.4zM367.00 566.4V540.4h1.00V566.4zM386.00 566.4V518.3h1.00V566.4zM392.00 566.4V512.9h1.00V566.4zM409.00 566.4V490.6h1.00V566.4zM416.00 566.4V479.3h1.00V566.4zM418.00 566.4V476.3h1.00V566.4zM438.00 566.4V434.8h1.00V566.4zM442.00 566.4V425.8h1.00V566.4zM448.00 566.4V410.9h1.00V566.4zM450.00 566.4V405.1h1.00V566.4zM467.00 566.4V349.1h1.00V566.4zM470.00 566.4V339.0h1.00V566.4zM484.00 566.4V282.7h1.00V566.4zM487.00 566.4V269.8h1.00V566.4z" fill="#6a8a3a"/>
<path d="M303.00 566.4V565.4h1.00V566.4zM306.00 566.4V565.8h1.00V566.4zM309.00 566.4V565.1h1.00V566.4zM324.00 566.4V563.0h1.00V566.4zM327.00 566.4V562.4h1.00V566.4zM349.00 566.4V551.7h1.00V566.4zM360.00 566.4V544.7h1.00V566.4zM363.00 566.4V542.1h1.00V566.4zM383.00 566.4V520.8h1.00V566.4zM388.00 566.4V515.9h1.00V566.4zM404.00 566.4V499.5h1.00V566.4zM406.00 566.4V495.8h1.00V566.4zM415.00 566.4V480.7h1.00V566.4zM441.00 566.4V427.6h1.00V566.4zM461.00 566.4V369.3h1.00V566.4zM468.00 566.4V345.8h1.00V566.4zM472.00 566.4V331.6h1.00V566.4zM476.00 566.4V314.4h1.00V566.4z" fill="#d8a830"/>
<path d="M305.00 566.4V565.3h1.00V566.4zM307.00 566.4V566.1h1.00V566.4zM313.00 566.4V565.7h1.00V566.4zM315.00 566.4V565.5h1.00V566.4zM321.00 566.4V564.5h1.00V566.4zM333.00 566.4V559.4h1.00V566.4zM342.00 566.4V554.8h1.00V566.4zM353.00 566.4V549.3h1.00V566.4zM362.00 566.4V542.9h1.00V566.4zM394.00 566.4V512.3h1.00V566.4zM400.00 566.4V504.8h1.00V566.4zM435.00 566.4V441.6h1.00V566.4zM443.00 566.4V423.9h1.00V566.4zM456.00 566.4V385.6h1.00V566.4zM458.00 566.4V379.4h1.00V566.4zM460.00 566.4V372.3h1.00V566.4zM469.00 566.4V342.5h1.00V566.4z" fill="#a0b860"/>
<path d="M310.00 566.4V565.2h1.00V566.4zM351.00 566.4V550.9h1.00V566.4zM355.00 566.4V548.1h1.00V566.4zM370.00 566.4V537.5h1.00V566.4zM397.00 566.4V508.3h1.00V566.4zM440.00 566.4V429.8h1.00V566.4zM451.00 566.4V402.1h1.00V566.4z" fill="#e0b838"/>
<path d="M314.00 566.4V565.0h1.00V566.4zM352.00 566.4V550.1h1.00V566.4zM354.00 566.4V549.1h1.00V566.4zM359.00 566.4V544.9h1.00V566.4zM366.00 566.4V540.8h1.00V566.4zM379.00 566.4V525.4h1.00V566.4zM423.00 566.4V466.9h1.00V566.4zM429.00 566.4V455.5h1.00V566.4zM432.00 566.4V449.0h1.00V566.4zM439.00 566.4V432.0h1.00V566.4zM449.00 566.4V408.0h1.00V566.4zM452.00 566.4V399.5h1.00V566.4zM454.00 566.4V393.1h1.00V566.4zM479.00 566.4V302.8h1.00V566.4zM481.00 566.4V294.6h1.00V566.4zM486.00 566.4V274.8h1.00V566.4z" fill="#b8923a"/>
<path d="M317.00 566.4V564.6h1.00V566.4zM332.00 566.4V559.4h1.00V566.4zM335.00 566.4V558.2h1.00V566.4zM341.00 566.4V554.5h1.00V566.4zM344.00 566.4V553.6h1.00V566.4zM347.00 566.4V552.3h1.00V566.4zM356.00 566.4V547.3h1.00V566.4zM365.00 566.4V541.3h1.00V566.4zM368.00 566.4V539.5h1.00V566.4zM371.00 566.4V536.2h1.00V566.4zM382.00 566.4V521.5h1.00V566.4zM384.00 566.4V519.2h1.00V566.4zM396.00 566.4V510.3h1.00V566.4zM402.00 566.4V502.2h1.00V566.4zM410.00 566.4V489.3h1.00V566.4zM417.00 566.4V477.9h1.00V566.4zM424.00 566.4V464.8h1.00V566.4zM433.00 566.4V447.4h1.00V566.4zM447.00 566.4V414.0h1.00V566.4zM455.00 566.4V390.0h1.00V566.4zM457.00 566.4V382.7h1.00V566.4zM466.00 566.4V353.2h1.00V566.4zM471.00 566.4V334.9h1.00V566.4zM477.00 566.4V310.0h1.00V566.4zM480.00 566.4V298.8h1.00V566.4zM485.00 566.4V279.2h1.00V566.4z" fill="#d88838"/>
<path d="M323.00 566.4V563.3h1.00V566.4zM334.00 566.4V558.6h1.00V566.4zM343.00 566.4V554.0h1.00V566.4zM391.00 566.4V514.3h1.00V566.4zM395.00 566.4V511.2h1.00V566.4zM399.00 566.4V505.6h1.00V566.4zM403.00 566.4V500.9h1.00V566.4zM422.00 566.4V468.7h1.00V566.4zM425.00 566.4V463.4h1.00V566.4zM453.00 566.4V397.0h1.00V566.4zM459.00 566.4V375.7h1.00V566.4zM462.00 566.4V365.8h1.00V566.4zM464.00 566.4V359.8h1.00V566.4zM473.00 566.4V327.4h1.00V566.4z" fill="#c07030"/>
<path d="M390.00 566.4V514.6h1.00V566.4zM405.00 566.4V497.8h1.00V566.4zM412.00 566.4V486.3h1.00V566.4zM426.00 566.4V460.9h1.00V566.4zM437.00 566.4V437.2h1.00V566.4z" fill="#e89858"/>
<path d="M489.00 566.4V239.0h1.00V566.4z" fill="#8aa04a"/>
<line x1="145.4" y1="395.4" x2="452" y2="395.4" stroke="#e2e2e2" stroke-width="0.75"/>
<line x1="145.4" y1="395.4" x2="452.3" y2="395.4" stroke="#2a2a2a" stroke-width="1.15" stroke-dasharray="11 10.93" stroke-dashoffset="5.5"/>
<line x1="453.3" y1="395" x2="453.3" y2="566" stroke="#2a1a0a" stroke-width="1" stroke-dasharray="7.2 4.55" stroke-dashoffset="-2.9"/>
<text x="155.4" y="252" class="g" font-size="15.2" font-weight="bold" fill="#5a5a5a">m</text>
<text x="225.7" y="306.5" font-size="10.2" fill="#111" textLength="185.5" lengthAdjust="spacingAndGlyphs">Industrial water-withdrawal Lorenz curve</text>
<text x="146.7" y="586.1" font-size="10.5" text-anchor="middle" fill="#111" textLength="6.3" lengthAdjust="spacingAndGlyphs">0</text>
<text x="198" y="586.1" font-size="10.5" text-anchor="middle" fill="#111" textLength="12" lengthAdjust="spacingAndGlyphs">25</text>
<text x="294.7" y="586.1" font-size="10.5" text-anchor="middle" fill="#111" textLength="12" lengthAdjust="spacingAndGlyphs">50</text>
<text x="388.8" y="586.1" font-size="10.5" text-anchor="middle" fill="#111" textLength="11.9" lengthAdjust="spacingAndGlyphs">75</text>
<text x="477.3" y="586.1" font-size="10.5" text-anchor="middle" fill="#111" textLength="19" lengthAdjust="spacingAndGlyphs">100</text>
<text x="491.7" y="244.4" font-size="11.4" fill="#111" textLength="16.6" lengthAdjust="spacingAndGlyphs">100</text>
<text x="492.9" y="326.0" font-size="11.4" fill="#111" textLength="11.4" lengthAdjust="spacingAndGlyphs">75</text>
<text x="492.9" y="410.7" font-size="11.4" fill="#111" textLength="11.4" lengthAdjust="spacingAndGlyphs">50</text>
<text x="492.9" y="497.4" font-size="11.4" fill="#111" textLength="11.4" lengthAdjust="spacingAndGlyphs">25</text>
<text x="221.5" y="596" font-size="10.2" fill="#111" textLength="191" lengthAdjust="spacingAndGlyphs">Prefecture-sector combinations ranked by</text>
<text x="208.7" y="613.5" font-size="10.2" fill="#111" textLength="194" lengthAdjust="spacingAndGlyphs">water withdrawal per industrial  output (%)</text>
<text transform="translate(516.0,472.3) rotate(-90)" font-size="10" fill="#111" textLength="119" lengthAdjust="spacingAndGlyphs">Cumulative water use (%)</text>
<text transform="translate(534.4,352.8) rotate(-90)" font-size="11.2" fill="#111" textLength="101" lengthAdjust="spacingAndGlyphs">46% water withdrawal</text>
<text x="442.3" y="226" font-size="10.2" fill="#111" textLength="47.5" lengthAdjust="spacingAndGlyphs">Top 10%</text>
<path d="M452.7 234.3 C453.6 231.2 455 230.3 458.5 230.3 L465.5 230.3 C468.6 230.3 470.1 229.4 470.6 226.4 C471.1 229.4 472.6 230.4 475.7 230.4 L484 230.4 C487.4 230.4 488.8 231.3 489.5 233.9" fill="none" stroke="#626262" stroke-width="2" stroke-linecap="round" stroke-linejoin="round"/>
<path d="M515.3 234.9 C517.6 237.4 520.4 243 520.9 253 L521.7 283 L521.9 296 C522.1 304 522.9 309 525.6 312.6 L525.9 317.1 L525.6 321.8 C522.9 326 522.4 332 522.3 340 L522.3 378 C522.2 387 521.2 392 517.3 399 L517.3 389.5 C517.8 385.5 519.8 382 520.0 372 L520.3 350 L520.6 332 C520.9 326 521.8 322 522.6 317 C521.8 312 520.7 308 520.4 302 L519.8 290 L519.2 280 L518.5 256 C518.2 250.5 515.3 249.5 515.3 245.2 Z" fill="#686868" stroke="#686868" stroke-width="0.5" stroke-linejoin="round"/>
</g>
</svg>
</body></html>
